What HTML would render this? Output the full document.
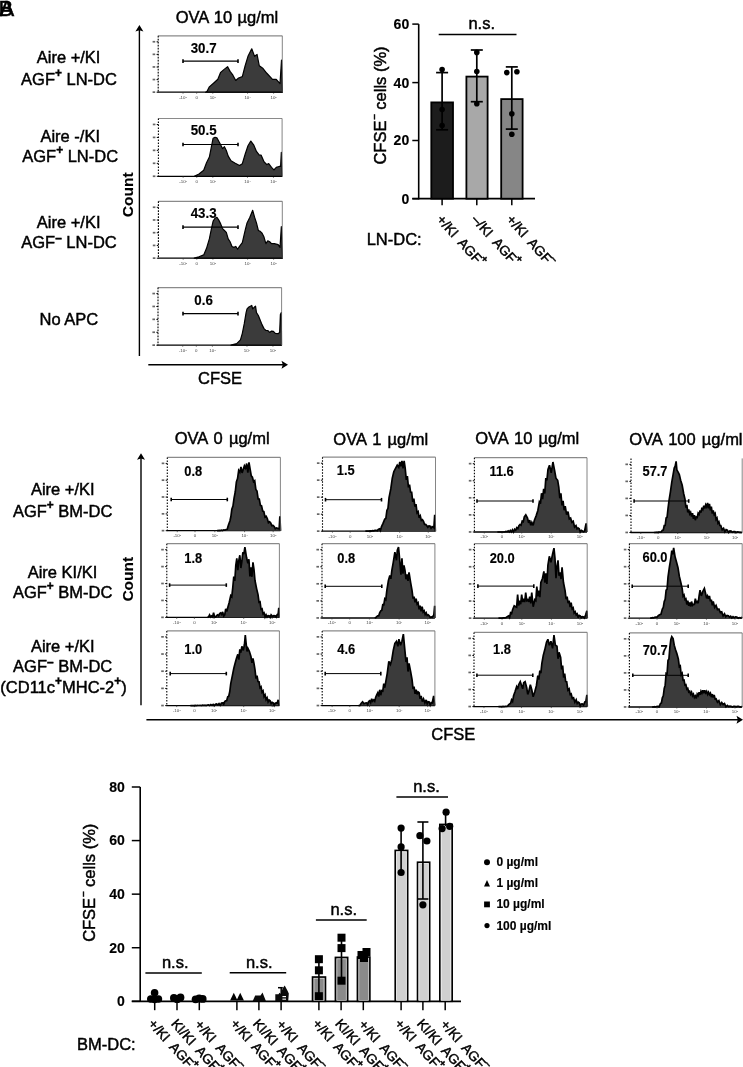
<!DOCTYPE html>
<html><head><meta charset="utf-8"><style>
html,body{margin:0;padding:0;background:#fff;}
body{width:743px;height:1067px;overflow:hidden;}
svg{display:block;font-family:"Liberation Sans", sans-serif;will-change:transform;}
</style></head><body>
<svg width="743" height="1067" viewBox="0 0 743 1067">
<rect width="743" height="1067" fill="#fff"/>
<text x="-1.5" y="15.6" font-size="22" stroke="#000" stroke-width="0.5">B</text>
<text x="-0.5" y="15.6" font-size="22" stroke="#000" stroke-width="0.5">A</text>
<text x="227.00" y="23.00" font-size="16.5" font-weight="normal" text-anchor="middle" fill="#000" stroke="#000" stroke-width="0.45" word-spacing="0.8">OVA 10 µg/ml</text>
<line x1="139.40" y1="29.10" x2="139.40" y2="356.00" stroke="#000" stroke-width="1.4" />
<path d="M139.40,25.10 L143.40,31.60 L139.40,30.30 L135.40,31.60 Z" fill="#000"/>
<line x1="148.30" y1="364.70" x2="284.00" y2="364.70" stroke="#000" stroke-width="1.4" />
<path d="M288.00,364.70 L281.50,360.70 L282.80,364.70 L281.50,368.70 Z" fill="#000"/>
<text x="0" y="0" font-size="15.5" font-weight="bold" text-anchor="middle" stroke="#000" stroke-width="0.15" transform="translate(133.00,194.80) rotate(-90) scale(1,1.0)">Count</text>
<text x="220.00" y="384.10" font-size="16.5" font-weight="normal" text-anchor="middle" fill="#000" stroke="#000" stroke-width="0.45" >CFSE</text>
<text x="68.60" y="62.80" font-size="16.5" font-weight="normal" text-anchor="middle" fill="#000" stroke="#000" stroke-width="0.45" >Aire +/KI</text>
<text x="69.00" y="84.60" font-size="16.5" font-weight="normal" text-anchor="middle" fill="#000" stroke="#000" stroke-width="0.45" >AGF<tspan font-size="72%" font-weight="bold" baseline-shift="8">+</tspan> LN-DC</text>
<text x="70.20" y="141.80" font-size="16.5" font-weight="normal" text-anchor="middle" fill="#000" stroke="#000" stroke-width="0.45" >Aire -/KI</text>
<text x="70.20" y="162.00" font-size="16.5" font-weight="normal" text-anchor="middle" fill="#000" stroke="#000" stroke-width="0.45" >AGF<tspan font-size="72%" font-weight="bold" baseline-shift="8">+</tspan> LN-DC</text>
<text x="68.70" y="227.60" font-size="16.5" font-weight="normal" text-anchor="middle" fill="#000" stroke="#000" stroke-width="0.45" >Aire +/KI</text>
<text x="69.00" y="248.20" font-size="16.5" font-weight="normal" text-anchor="middle" fill="#000" stroke="#000" stroke-width="0.45" >AGF<tspan font-size="72%" font-weight="bold" baseline-shift="6">–</tspan> LN-DC</text>
<text x="68.90" y="325.20" font-size="16.5" font-weight="normal" text-anchor="middle" fill="#000" stroke="#000" stroke-width="0.45" >No APC</text>
<line x1="158.20" y1="35.80" x2="282.30" y2="35.80" stroke="#8a8a8a" stroke-width="1.2" />
<line x1="158.20" y1="35.80" x2="158.20" y2="92.20" stroke="#000" stroke-width="1.1" stroke-dasharray="1.6 1.4"/>
<line x1="157.70" y1="92.20" x2="282.30" y2="92.20" stroke="#000" stroke-width="1.3" />
<line x1="156.60" y1="92.20" x2="158.20" y2="92.20" stroke="#000" stroke-width="1.0" />
<rect x="152.60" y="91.30" width="2.60" height="1.70" fill="#666" stroke="none" stroke-width="1" />
<line x1="156.60" y1="79.60" x2="158.20" y2="79.60" stroke="#000" stroke-width="1.0" />
<rect x="152.60" y="78.70" width="2.60" height="1.70" fill="#666" stroke="none" stroke-width="1" />
<line x1="156.60" y1="67.00" x2="158.20" y2="67.00" stroke="#000" stroke-width="1.0" />
<rect x="152.60" y="66.10" width="2.60" height="1.70" fill="#666" stroke="none" stroke-width="1" />
<line x1="156.60" y1="54.40" x2="158.20" y2="54.40" stroke="#000" stroke-width="1.0" />
<rect x="152.60" y="53.50" width="2.60" height="1.70" fill="#666" stroke="none" stroke-width="1" />
<line x1="156.60" y1="41.80" x2="158.20" y2="41.80" stroke="#000" stroke-width="1.0" />
<rect x="152.60" y="40.90" width="2.60" height="1.70" fill="#666" stroke="none" stroke-width="1" />
<line x1="183.02" y1="92.20" x2="183.02" y2="93.70" stroke="#333" stroke-width="0.7" />
<text x="183.02" y="98.50" font-size="4.4" fill="#444" text-anchor="middle">-10<tspan font-size="2.5" dy="-1">3</tspan></text>
<line x1="196.67" y1="92.20" x2="196.67" y2="93.70" stroke="#333" stroke-width="0.7" />
<text x="196.67" y="98.50" font-size="4.4" fill="#444" text-anchor="middle">0</text>
<line x1="212.80" y1="92.20" x2="212.80" y2="93.70" stroke="#333" stroke-width="0.7" />
<text x="212.80" y="98.50" font-size="4.4" fill="#444" text-anchor="middle">10<tspan font-size="2.5" dy="-1">3</tspan></text>
<line x1="247.55" y1="92.20" x2="247.55" y2="93.70" stroke="#333" stroke-width="0.7" />
<text x="247.55" y="98.50" font-size="4.4" fill="#444" text-anchor="middle">10<tspan font-size="2.5" dy="-1">4</tspan></text>
<line x1="273.61" y1="92.20" x2="273.61" y2="93.70" stroke="#333" stroke-width="0.7" />
<text x="273.61" y="98.50" font-size="4.4" fill="#444" text-anchor="middle">10<tspan font-size="2.5" dy="-1">5</tspan></text>
<path d="M205.59,92.20 L207.09,91.34 L209.35,86.83 L214.06,82.69 L217.83,79.30 L220.66,72.34 L224.43,69.14 L227.63,66.69 L230.08,71.40 L232.91,75.16 L235.73,80.43 L238.56,77.98 L242.33,76.67 L245.15,65.75 L247.98,56.34 L251.75,48.82 L254.58,56.34 L257.03,54.46 L259.29,65.75 L263.06,68.58 L266.82,73.28 L272.48,79.30 L276.24,79.30 L280.01,83.63 L281.52,60.11 L282.46,92.20 Z" fill="#3b3b3b" stroke="#000" stroke-width="1.2" stroke-linejoin="round"/>
<line x1="282.30" y1="35.80" x2="282.30" y2="92.20" stroke="#666" stroke-width="0.8" />
<text x="0" y="0" transform="translate(203.60,53.40) scale(0.93,1)" font-size="14.3" font-weight="bold" text-anchor="middle" fill="#000" stroke="#000" stroke-width="0.15" >30.7</text>
<line x1="183.00" y1="61.10" x2="238.00" y2="61.10" stroke="#000" stroke-width="1.05" />
<line x1="183.00" y1="59.30" x2="183.00" y2="62.90" stroke="#000" stroke-width="1.6" />
<line x1="238.00" y1="59.30" x2="238.00" y2="62.90" stroke="#000" stroke-width="1.6" />
<line x1="158.40" y1="118.50" x2="282.10" y2="118.50" stroke="#8a8a8a" stroke-width="1.2" />
<line x1="158.40" y1="118.50" x2="158.40" y2="176.30" stroke="#000" stroke-width="1.1" stroke-dasharray="1.6 1.4"/>
<line x1="157.90" y1="176.30" x2="282.10" y2="176.30" stroke="#000" stroke-width="1.3" />
<line x1="156.80" y1="176.30" x2="158.40" y2="176.30" stroke="#000" stroke-width="1.0" />
<rect x="152.80" y="175.40" width="2.60" height="1.70" fill="#666" stroke="none" stroke-width="1" />
<line x1="156.80" y1="163.35" x2="158.40" y2="163.35" stroke="#000" stroke-width="1.0" />
<rect x="152.80" y="162.45" width="2.60" height="1.70" fill="#666" stroke="none" stroke-width="1" />
<line x1="156.80" y1="150.40" x2="158.40" y2="150.40" stroke="#000" stroke-width="1.0" />
<rect x="152.80" y="149.50" width="2.60" height="1.70" fill="#666" stroke="none" stroke-width="1" />
<line x1="156.80" y1="137.45" x2="158.40" y2="137.45" stroke="#000" stroke-width="1.0" />
<rect x="152.80" y="136.55" width="2.60" height="1.70" fill="#666" stroke="none" stroke-width="1" />
<line x1="156.80" y1="124.50" x2="158.40" y2="124.50" stroke="#000" stroke-width="1.0" />
<rect x="152.80" y="123.60" width="2.60" height="1.70" fill="#666" stroke="none" stroke-width="1" />
<line x1="183.14" y1="176.30" x2="183.14" y2="177.80" stroke="#333" stroke-width="0.7" />
<text x="183.14" y="182.60" font-size="4.4" fill="#444" text-anchor="middle">-10<tspan font-size="2.5" dy="-1">3</tspan></text>
<line x1="196.75" y1="176.30" x2="196.75" y2="177.80" stroke="#333" stroke-width="0.7" />
<text x="196.75" y="182.60" font-size="4.4" fill="#444" text-anchor="middle">0</text>
<line x1="212.83" y1="176.30" x2="212.83" y2="177.80" stroke="#333" stroke-width="0.7" />
<text x="212.83" y="182.60" font-size="4.4" fill="#444" text-anchor="middle">10<tspan font-size="2.5" dy="-1">3</tspan></text>
<line x1="247.46" y1="176.30" x2="247.46" y2="177.80" stroke="#333" stroke-width="0.7" />
<text x="247.46" y="182.60" font-size="4.4" fill="#444" text-anchor="middle">10<tspan font-size="2.5" dy="-1">4</tspan></text>
<line x1="273.44" y1="176.30" x2="273.44" y2="177.80" stroke="#333" stroke-width="0.7" />
<text x="273.44" y="182.60" font-size="4.4" fill="#444" text-anchor="middle">10<tspan font-size="2.5" dy="-1">5</tspan></text>
<path d="M194.28,176.30 L198.99,173.98 L203.70,170.22 L206.53,162.69 L209.35,157.04 L211.24,147.63 L213.12,138.23 L215.01,137.28 L216.89,137.85 L219.72,142.93 L222.54,148.58 L224.43,146.69 L226.31,150.46 L228.20,156.10 L231.02,160.81 L234.79,163.06 L239.50,165.51 L242.33,163.63 L245.15,154.22 L247.98,145.75 L250.81,141.05 L253.63,144.81 L256.46,151.40 L259.29,155.16 L261.17,155.16 L264.00,161.75 L266.82,164.57 L268.71,163.63 L271.53,167.39 L273.98,169.84 L276.24,167.39 L279.07,166.45 L280.58,166.45 L281.33,152.34 L281.90,176.30 Z" fill="#3b3b3b" stroke="#000" stroke-width="1.2" stroke-linejoin="round"/>
<line x1="282.10" y1="118.50" x2="282.10" y2="176.30" stroke="#666" stroke-width="0.8" />
<text x="0" y="0" transform="translate(203.60,134.80) scale(0.93,1)" font-size="14.3" font-weight="bold" text-anchor="middle" fill="#000" stroke="#000" stroke-width="0.15" >50.5</text>
<line x1="183.00" y1="144.50" x2="238.00" y2="144.50" stroke="#000" stroke-width="1.05" />
<line x1="183.00" y1="142.70" x2="183.00" y2="146.30" stroke="#000" stroke-width="1.6" />
<line x1="238.00" y1="142.70" x2="238.00" y2="146.30" stroke="#000" stroke-width="1.6" />
<line x1="158.40" y1="201.30" x2="282.30" y2="201.30" stroke="#8a8a8a" stroke-width="1.2" />
<line x1="158.40" y1="201.30" x2="158.40" y2="258.20" stroke="#000" stroke-width="1.1" stroke-dasharray="1.6 1.4"/>
<line x1="157.90" y1="258.20" x2="282.30" y2="258.20" stroke="#000" stroke-width="1.3" />
<line x1="156.80" y1="258.20" x2="158.40" y2="258.20" stroke="#000" stroke-width="1.0" />
<rect x="152.80" y="257.30" width="2.60" height="1.70" fill="#666" stroke="none" stroke-width="1" />
<line x1="156.80" y1="245.47" x2="158.40" y2="245.47" stroke="#000" stroke-width="1.0" />
<rect x="152.80" y="244.57" width="2.60" height="1.70" fill="#666" stroke="none" stroke-width="1" />
<line x1="156.80" y1="232.75" x2="158.40" y2="232.75" stroke="#000" stroke-width="1.0" />
<rect x="152.80" y="231.85" width="2.60" height="1.70" fill="#666" stroke="none" stroke-width="1" />
<line x1="156.80" y1="220.03" x2="158.40" y2="220.03" stroke="#000" stroke-width="1.0" />
<rect x="152.80" y="219.12" width="2.60" height="1.70" fill="#666" stroke="none" stroke-width="1" />
<line x1="156.80" y1="207.30" x2="158.40" y2="207.30" stroke="#000" stroke-width="1.0" />
<rect x="152.80" y="206.40" width="2.60" height="1.70" fill="#666" stroke="none" stroke-width="1" />
<line x1="183.18" y1="258.20" x2="183.18" y2="259.70" stroke="#333" stroke-width="0.7" />
<text x="183.18" y="264.50" font-size="4.4" fill="#444" text-anchor="middle">-10<tspan font-size="2.5" dy="-1">3</tspan></text>
<line x1="196.81" y1="258.20" x2="196.81" y2="259.70" stroke="#333" stroke-width="0.7" />
<text x="196.81" y="264.50" font-size="4.4" fill="#444" text-anchor="middle">0</text>
<line x1="212.92" y1="258.20" x2="212.92" y2="259.70" stroke="#333" stroke-width="0.7" />
<text x="212.92" y="264.50" font-size="4.4" fill="#444" text-anchor="middle">10<tspan font-size="2.5" dy="-1">3</tspan></text>
<line x1="247.61" y1="258.20" x2="247.61" y2="259.70" stroke="#333" stroke-width="0.7" />
<text x="247.61" y="264.50" font-size="4.4" fill="#444" text-anchor="middle">10<tspan font-size="2.5" dy="-1">4</tspan></text>
<line x1="273.63" y1="258.20" x2="273.63" y2="259.70" stroke="#333" stroke-width="0.7" />
<text x="273.63" y="264.50" font-size="4.4" fill="#444" text-anchor="middle">10<tspan font-size="2.5" dy="-1">5</tspan></text>
<path d="M194.28,258.20 L198.99,256.80 L203.70,254.92 L206.53,248.33 L209.35,238.92 L211.24,229.52 L213.12,221.05 L215.01,218.23 L216.89,217.28 L218.78,220.11 L220.66,223.87 L222.54,228.58 L224.43,230.46 L226.31,232.34 L228.20,238.92 L230.08,241.75 L231.97,246.45 L233.85,247.39 L235.73,246.45 L237.62,249.27 L239.50,246.45 L242.33,242.69 L245.15,230.46 L247.04,222.93 L249.87,217.28 L252.69,210.32 L254.58,217.28 L256.46,222.93 L258.34,230.46 L260.23,231.40 L262.11,233.28 L264.00,237.04 L265.88,243.63 L267.77,240.81 L269.65,241.75 L271.53,243.63 L274.36,243.63 L278.13,244.57 L280.01,247.39 L281.33,226.69 L282.46,258.20 Z" fill="#3b3b3b" stroke="#000" stroke-width="1.2" stroke-linejoin="round"/>
<line x1="282.30" y1="201.30" x2="282.30" y2="258.20" stroke="#666" stroke-width="0.8" />
<text x="0" y="0" transform="translate(203.60,217.80) scale(0.93,1)" font-size="14.3" font-weight="bold" text-anchor="middle" fill="#000" stroke="#000" stroke-width="0.15" >43.3</text>
<line x1="183.00" y1="227.10" x2="238.00" y2="227.10" stroke="#000" stroke-width="1.05" />
<line x1="183.00" y1="225.30" x2="183.00" y2="228.90" stroke="#000" stroke-width="1.6" />
<line x1="238.00" y1="225.30" x2="238.00" y2="228.90" stroke="#000" stroke-width="1.6" />
<line x1="158.00" y1="287.60" x2="281.60" y2="287.60" stroke="#8a8a8a" stroke-width="1.2" />
<line x1="158.00" y1="287.60" x2="158.00" y2="345.20" stroke="#000" stroke-width="1.1" stroke-dasharray="1.6 1.4"/>
<line x1="157.50" y1="345.20" x2="281.60" y2="345.20" stroke="#000" stroke-width="1.3" />
<line x1="156.40" y1="345.20" x2="158.00" y2="345.20" stroke="#000" stroke-width="1.0" />
<rect x="152.40" y="344.30" width="2.60" height="1.70" fill="#666" stroke="none" stroke-width="1" />
<line x1="156.40" y1="332.30" x2="158.00" y2="332.30" stroke="#000" stroke-width="1.0" />
<rect x="152.40" y="331.40" width="2.60" height="1.70" fill="#666" stroke="none" stroke-width="1" />
<line x1="156.40" y1="319.40" x2="158.00" y2="319.40" stroke="#000" stroke-width="1.0" />
<rect x="152.40" y="318.50" width="2.60" height="1.70" fill="#666" stroke="none" stroke-width="1" />
<line x1="156.40" y1="306.50" x2="158.00" y2="306.50" stroke="#000" stroke-width="1.0" />
<rect x="152.40" y="305.60" width="2.60" height="1.70" fill="#666" stroke="none" stroke-width="1" />
<line x1="156.40" y1="293.60" x2="158.00" y2="293.60" stroke="#000" stroke-width="1.0" />
<rect x="152.40" y="292.70" width="2.60" height="1.70" fill="#666" stroke="none" stroke-width="1" />
<line x1="182.72" y1="345.20" x2="182.72" y2="346.70" stroke="#333" stroke-width="0.7" />
<text x="182.72" y="351.50" font-size="4.4" fill="#444" text-anchor="middle">-10<tspan font-size="2.5" dy="-1">3</tspan></text>
<line x1="196.32" y1="345.20" x2="196.32" y2="346.70" stroke="#333" stroke-width="0.7" />
<text x="196.32" y="351.50" font-size="4.4" fill="#444" text-anchor="middle">0</text>
<line x1="212.38" y1="345.20" x2="212.38" y2="346.70" stroke="#333" stroke-width="0.7" />
<text x="212.38" y="351.50" font-size="4.4" fill="#444" text-anchor="middle">10<tspan font-size="2.5" dy="-1">3</tspan></text>
<line x1="246.99" y1="345.20" x2="246.99" y2="346.70" stroke="#333" stroke-width="0.7" />
<text x="246.99" y="351.50" font-size="4.4" fill="#444" text-anchor="middle">10<tspan font-size="2.5" dy="-1">4</tspan></text>
<line x1="272.95" y1="345.20" x2="272.95" y2="346.70" stroke="#333" stroke-width="0.7" />
<text x="272.95" y="351.50" font-size="4.4" fill="#444" text-anchor="middle">10<tspan font-size="2.5" dy="-1">5</tspan></text>
<path d="M231.02,345.20 L236.68,343.68 L240.44,339.92 L242.33,333.33 L244.21,323.92 L246.10,312.63 L247.04,308.87 L248.92,306.99 L251.75,305.48 L252.69,308.87 L254.58,306.99 L255.52,306.05 L256.46,312.63 L258.34,315.46 L260.23,320.16 L262.11,324.87 L264.00,328.63 L265.88,330.51 L267.77,330.51 L269.65,332.39 L271.53,331.08 L273.42,331.45 L275.30,333.33 L278.13,333.71 L279.64,332.39 L280.39,314.52 L281.33,312.63 L281.52,345.20 Z" fill="#3b3b3b" stroke="#000" stroke-width="1.2" stroke-linejoin="round"/>
<line x1="281.60" y1="287.60" x2="281.60" y2="345.20" stroke="#666" stroke-width="0.8" />
<text x="0" y="0" transform="translate(203.60,305.00) scale(0.93,1)" font-size="14.3" font-weight="bold" text-anchor="middle" fill="#000" stroke="#000" stroke-width="0.15" >0.6</text>
<line x1="183.00" y1="313.60" x2="238.00" y2="313.60" stroke="#000" stroke-width="1.05" />
<line x1="183.00" y1="311.80" x2="183.00" y2="315.40" stroke="#000" stroke-width="1.6" />
<line x1="238.00" y1="311.80" x2="238.00" y2="315.40" stroke="#000" stroke-width="1.6" />
<line x1="418.70" y1="24.10" x2="418.70" y2="199.40" stroke="#000" stroke-width="1.6" />
<line x1="412.30" y1="24.10" x2="418.70" y2="24.10" stroke="#000" stroke-width="1.5" />
<text x="409.20" y="29.00" font-size="14" font-weight="bold" text-anchor="end" fill="#000" stroke="#000" stroke-width="0.15" >60</text>
<line x1="412.30" y1="82.60" x2="418.70" y2="82.60" stroke="#000" stroke-width="1.5" />
<text x="409.20" y="87.50" font-size="14" font-weight="bold" text-anchor="end" fill="#000" stroke="#000" stroke-width="0.15" >40</text>
<line x1="412.30" y1="140.50" x2="418.70" y2="140.50" stroke="#000" stroke-width="1.5" />
<text x="409.20" y="145.40" font-size="14" font-weight="bold" text-anchor="end" fill="#000" stroke="#000" stroke-width="0.15" >20</text>
<line x1="412.30" y1="198.70" x2="418.70" y2="198.70" stroke="#000" stroke-width="1.5" />
<text x="409.20" y="203.60" font-size="14" font-weight="bold" text-anchor="end" fill="#000" stroke="#000" stroke-width="0.15" >0</text>
<line x1="412.30" y1="198.70" x2="535.00" y2="198.70" stroke="#000" stroke-width="1.8" />
<rect x="431.30" y="102.40" width="21.70" height="96.30" fill="#1c1c1c" stroke="#000" stroke-width="1.8" />
<line x1="442.10" y1="198.70" x2="442.10" y2="205.20" stroke="#000" stroke-width="1.5" />
<rect x="466.40" y="76.60" width="21.20" height="122.10" fill="#a8a8a8" stroke="#000" stroke-width="1.8" />
<line x1="476.80" y1="198.70" x2="476.80" y2="205.20" stroke="#000" stroke-width="1.5" />
<rect x="501.20" y="99.10" width="21.40" height="99.60" fill="#868686" stroke="#000" stroke-width="1.8" />
<line x1="511.80" y1="198.70" x2="511.80" y2="205.20" stroke="#000" stroke-width="1.5" />
<line x1="442.10" y1="72.60" x2="442.10" y2="129.80" stroke="#000" stroke-width="1.7" />
<line x1="436.10" y1="72.60" x2="448.10" y2="72.60" stroke="#000" stroke-width="1.7" />
<line x1="436.10" y1="129.80" x2="448.10" y2="129.80" stroke="#000" stroke-width="1.7" />
<circle cx="442.10" cy="69.60" r="2.8" fill="#000"/>
<circle cx="442.10" cy="109.50" r="2.8" fill="#000"/>
<circle cx="442.10" cy="125.50" r="2.8" fill="#000"/>
<line x1="476.80" y1="50.00" x2="476.80" y2="101.70" stroke="#000" stroke-width="1.7" />
<line x1="470.80" y1="50.00" x2="482.80" y2="50.00" stroke="#000" stroke-width="1.7" />
<line x1="470.80" y1="101.70" x2="482.80" y2="101.70" stroke="#000" stroke-width="1.7" />
<circle cx="476.80" cy="52.40" r="2.8" fill="#000"/>
<circle cx="476.80" cy="71.50" r="2.8" fill="#000"/>
<circle cx="476.80" cy="103.80" r="2.8" fill="#000"/>
<line x1="511.80" y1="66.90" x2="511.80" y2="129.10" stroke="#000" stroke-width="1.7" />
<line x1="505.80" y1="66.90" x2="517.80" y2="66.90" stroke="#000" stroke-width="1.7" />
<line x1="505.80" y1="129.10" x2="517.80" y2="129.10" stroke="#000" stroke-width="1.7" />
<circle cx="511.80" cy="113.80" r="2.8" fill="#000"/>
<circle cx="511.80" cy="134.30" r="2.8" fill="#000"/>
<circle cx="506.80" cy="72.60" r="2.8" fill="#000"/>
<circle cx="516.90" cy="71.80" r="2.8" fill="#000"/>
<text x="481.70" y="28.80" font-size="16.5" font-weight="normal" text-anchor="middle" fill="#000" stroke="#000" stroke-width="0.45" >n.s.</text>
<line x1="438.70" y1="34.50" x2="516.50" y2="34.50" stroke="#000" stroke-width="1.6" />
<text x="0" y="0" font-size="16.5" font-weight="normal" text-anchor="middle" stroke="#000" stroke-width="0.45" transform="translate(385.80,105.50) rotate(-90) scale(1,1.04)">CFSE<tspan font-size="58%" font-weight="bold" baseline-shift="9" dx="1">–</tspan> cells (%)</text>
<text x="366.70" y="245.40" font-size="16.5" font-weight="normal" text-anchor="start" fill="#000" stroke="#000" stroke-width="0.45" >LN-DC:</text>
<text x="0" y="0" font-size="13.6" xml:space="preserve" stroke="#000" stroke-width="0.45" transform="translate(436.00,220.00) rotate(48)">+/KI  AGF<tspan font-size="70%" font-weight="bold" baseline-shift="7" dx="-0.5">+</tspan></text>
<text x="0" y="0" font-size="13.6" xml:space="preserve" stroke="#000" stroke-width="0.45" transform="translate(470.90,220.00) rotate(48)">–/KI  AGF<tspan font-size="70%" font-weight="bold" baseline-shift="7" dx="-0.5">+</tspan></text>
<text x="0" y="0" font-size="13.6" xml:space="preserve" stroke="#000" stroke-width="0.45" transform="translate(505.80,220.00) rotate(48)">+/KI  AGF<tspan font-size="70%" font-weight="bold" baseline-shift="7" dx="-0.5">–</tspan></text>
<text x="222.10" y="444.00" font-size="16.5" font-weight="normal" text-anchor="middle" fill="#000" stroke="#000" stroke-width="0.45" word-spacing="1.6">OVA 0 µg/ml</text>
<text x="380.80" y="444.50" font-size="16.5" font-weight="normal" text-anchor="middle" fill="#000" stroke="#000" stroke-width="0.45" word-spacing="1.6">OVA 1 µg/ml</text>
<text x="527.20" y="444.10" font-size="16.5" font-weight="normal" text-anchor="middle" fill="#000" stroke="#000" stroke-width="0.45" word-spacing="1.6">OVA 10 µg/ml</text>
<text x="685.90" y="444.50" font-size="16.5" font-weight="normal" text-anchor="middle" fill="#000" stroke="#000" stroke-width="0.45" word-spacing="1.6">OVA 100 µg/ml</text>
<line x1="141.00" y1="457.20" x2="141.00" y2="705.20" stroke="#000" stroke-width="1.4" />
<path d="M141.00,453.20 L145.00,459.70 L141.00,458.40 L137.00,459.70 Z" fill="#000"/>
<line x1="146.40" y1="719.80" x2="739.00" y2="719.80" stroke="#000" stroke-width="1.4" />
<path d="M743.00,719.80 L736.50,715.80 L737.80,719.80 L736.50,723.80 Z" fill="#000"/>
<text x="0" y="0" font-size="15.5" font-weight="bold" text-anchor="middle" stroke="#000" stroke-width="0.15" transform="translate(132.60,579.20) rotate(-90) scale(1,1.0)">Count</text>
<text x="453.30" y="739.60" font-size="16.5" font-weight="normal" text-anchor="middle" fill="#000" stroke="#000" stroke-width="0.45" >CFSE</text>
<text x="62.80" y="494.80" font-size="16.5" font-weight="normal" text-anchor="middle" fill="#000" stroke="#000" stroke-width="0.45" >Aire +/KI</text>
<text x="62.70" y="516.90" font-size="16.5" font-weight="normal" text-anchor="middle" fill="#000" stroke="#000" stroke-width="0.45" >AGF<tspan font-size="72%" font-weight="bold" baseline-shift="8">+</tspan> BM-DC</text>
<text x="62.50" y="577.70" font-size="16.5" font-weight="normal" text-anchor="middle" fill="#000" stroke="#000" stroke-width="0.45" >Aire KI/KI</text>
<text x="62.70" y="598.10" font-size="16.5" font-weight="normal" text-anchor="middle" fill="#000" stroke="#000" stroke-width="0.45" >AGF<tspan font-size="72%" font-weight="bold" baseline-shift="8">+</tspan> BM-DC</text>
<text x="62.80" y="652.40" font-size="16.5" font-weight="normal" text-anchor="middle" fill="#000" stroke="#000" stroke-width="0.45" >Aire +/KI</text>
<text x="62.70" y="671.80" font-size="16.5" font-weight="normal" text-anchor="middle" fill="#000" stroke="#000" stroke-width="0.45" >AGF<tspan font-size="72%" font-weight="bold" baseline-shift="6">–</tspan> BM-DC</text>
<text x="63.50" y="693.00" font-size="16.5" font-weight="normal" text-anchor="middle" fill="#000" stroke="#000" stroke-width="0.45" >(CD11c<tspan font-size="72%" font-weight="bold" baseline-shift="8">+</tspan>MHC-2<tspan font-size="72%" font-weight="bold" baseline-shift="8">+</tspan>)</text>
<line x1="167.30" y1="457.40" x2="280.40" y2="457.40" stroke="#8a8a8a" stroke-width="1.2" />
<line x1="167.30" y1="457.40" x2="167.30" y2="530.70" stroke="#000" stroke-width="1.1" stroke-dasharray="1.6 1.4"/>
<line x1="166.80" y1="530.70" x2="280.40" y2="530.70" stroke="#000" stroke-width="1.3" />
<line x1="165.70" y1="530.70" x2="167.30" y2="530.70" stroke="#000" stroke-width="1.0" />
<rect x="161.70" y="529.80" width="2.60" height="1.70" fill="#666" stroke="none" stroke-width="1" />
<line x1="165.70" y1="513.88" x2="167.30" y2="513.88" stroke="#000" stroke-width="1.0" />
<rect x="161.70" y="512.98" width="2.60" height="1.70" fill="#666" stroke="none" stroke-width="1" />
<line x1="165.70" y1="497.05" x2="167.30" y2="497.05" stroke="#000" stroke-width="1.0" />
<rect x="161.70" y="496.15" width="2.60" height="1.70" fill="#666" stroke="none" stroke-width="1" />
<line x1="165.70" y1="480.23" x2="167.30" y2="480.23" stroke="#000" stroke-width="1.0" />
<rect x="161.70" y="479.33" width="2.60" height="1.70" fill="#666" stroke="none" stroke-width="1" />
<line x1="165.70" y1="463.40" x2="167.30" y2="463.40" stroke="#000" stroke-width="1.0" />
<rect x="161.70" y="462.50" width="2.60" height="1.70" fill="#666" stroke="none" stroke-width="1" />
<line x1="177.25" y1="530.70" x2="177.25" y2="532.20" stroke="#333" stroke-width="0.7" />
<text x="177.25" y="537.00" font-size="4.4" fill="#444" text-anchor="middle">-10<tspan font-size="2.5" dy="-1">3</tspan></text>
<line x1="195.01" y1="530.70" x2="195.01" y2="532.20" stroke="#333" stroke-width="0.7" />
<text x="195.01" y="537.00" font-size="4.4" fill="#444" text-anchor="middle">0</text>
<line x1="214.80" y1="530.70" x2="214.80" y2="532.20" stroke="#333" stroke-width="0.7" />
<text x="214.80" y="537.00" font-size="4.4" fill="#444" text-anchor="middle">10<tspan font-size="2.5" dy="-1">3</tspan></text>
<line x1="244.55" y1="530.70" x2="244.55" y2="532.20" stroke="#333" stroke-width="0.7" />
<text x="244.55" y="537.00" font-size="4.4" fill="#444" text-anchor="middle">10<tspan font-size="2.5" dy="-1">4</tspan></text>
<line x1="273.16" y1="530.70" x2="273.16" y2="532.20" stroke="#333" stroke-width="0.7" />
<text x="273.16" y="537.00" font-size="4.4" fill="#444" text-anchor="middle">10<tspan font-size="2.5" dy="-1">5</tspan></text>
<path d="M216.94,530.70 L218.09,530.64 L219.23,530.40 L220.38,530.61 L221.52,530.09 L222.66,530.50 L223.81,529.83 L224.95,530.14 L226.10,529.47 L227.24,529.34 L228.38,525.34 L229.99,520.76 L230.90,516.55 L231.82,509.31 L232.96,506.15 L234.10,497.86 L235.25,491.97 L236.39,481.83 L237.54,478.58 L238.68,470.38 L239.83,472.28 L240.97,466.95 L242.11,472.90 L243.26,469.24 L244.40,465.80 L245.55,468.09 L246.69,463.51 L247.83,472.67 L248.98,462.37 L250.12,469.24 L251.27,475.88 L252.41,477.25 L253.55,481.73 L254.70,480.69 L255.84,489.43 L256.99,490.99 L258.13,498.99 L259.27,499.01 L260.42,505.34 L261.56,505.88 L262.71,511.07 L263.85,511.60 L264.99,517.11 L266.14,516.21 L267.28,518.47 L268.43,522.75 L269.57,521.65 L270.71,523.05 L271.86,525.68 L273.00,525.39 L274.15,526.49 L275.29,528.75 L276.43,528.03 L277.58,528.32 L279.18,528.78 L279.87,516.18 L280.55,530.70 Z" fill="#3b3b3b" stroke="none"/>
<path d="M216.94,530.70 L218.09,530.64 L219.23,530.40 L220.38,530.61 L221.52,530.09 L222.66,530.50 L223.81,529.83 L224.95,530.14 L226.10,529.47 L227.24,529.34 L228.38,525.34 L229.99,520.76 L230.90,516.55 L231.82,509.31 L232.96,506.15 L234.10,497.86 L235.25,491.97 L236.39,481.83 L237.54,478.58 L238.68,470.38 L239.83,472.28 L240.97,466.95 L242.11,472.90 L243.26,469.24 L244.40,465.80 L245.55,468.09 L246.69,463.51 L247.83,472.67 L248.98,462.37 L250.12,469.24 L251.27,475.88 L252.41,477.25 L253.55,481.73 L254.70,480.69 L255.84,489.43 L256.99,490.99 L258.13,498.99 L259.27,499.01 L260.42,505.34 L261.56,505.88 L262.71,511.07 L263.85,511.60 L264.99,517.11 L266.14,516.21 L267.28,518.47 L268.43,522.75 L269.57,521.65 L270.71,523.05 L271.86,525.68 L273.00,525.39 L274.15,526.49 L275.29,528.75 L276.43,528.03 L277.58,528.32 L279.18,528.78 L279.87,516.18 L280.55,530.70" fill="none" stroke="#000" stroke-width="1.7" stroke-linejoin="miter" stroke-miterlimit="3"/>
<line x1="280.40" y1="457.40" x2="280.40" y2="530.70" stroke="#666" stroke-width="0.8" />
<text x="0" y="0" transform="translate(193.20,476.00) scale(0.9,1)" font-size="14.3" font-weight="bold" text-anchor="middle" fill="#000" stroke="#000" stroke-width="0.15" >0.8</text>
<line x1="171.20" y1="499.50" x2="227.30" y2="499.50" stroke="#000" stroke-width="1.0" />
<line x1="171.20" y1="497.70" x2="171.20" y2="501.30" stroke="#000" stroke-width="1.6" />
<line x1="227.30" y1="497.70" x2="227.30" y2="501.30" stroke="#000" stroke-width="1.6" />
<line x1="166.80" y1="543.70" x2="279.40" y2="543.70" stroke="#8a8a8a" stroke-width="1.2" />
<line x1="166.80" y1="543.70" x2="166.80" y2="617.40" stroke="#000" stroke-width="1.1" stroke-dasharray="1.6 1.4"/>
<line x1="166.30" y1="617.40" x2="279.40" y2="617.40" stroke="#000" stroke-width="1.3" />
<line x1="165.20" y1="617.40" x2="166.80" y2="617.40" stroke="#000" stroke-width="1.0" />
<rect x="161.20" y="616.50" width="2.60" height="1.70" fill="#666" stroke="none" stroke-width="1" />
<line x1="165.20" y1="600.48" x2="166.80" y2="600.48" stroke="#000" stroke-width="1.0" />
<rect x="161.20" y="599.58" width="2.60" height="1.70" fill="#666" stroke="none" stroke-width="1" />
<line x1="165.20" y1="583.55" x2="166.80" y2="583.55" stroke="#000" stroke-width="1.0" />
<rect x="161.20" y="582.65" width="2.60" height="1.70" fill="#666" stroke="none" stroke-width="1" />
<line x1="165.20" y1="566.62" x2="166.80" y2="566.62" stroke="#000" stroke-width="1.0" />
<rect x="161.20" y="565.73" width="2.60" height="1.70" fill="#666" stroke="none" stroke-width="1" />
<line x1="165.20" y1="549.70" x2="166.80" y2="549.70" stroke="#000" stroke-width="1.0" />
<rect x="161.20" y="548.80" width="2.60" height="1.70" fill="#666" stroke="none" stroke-width="1" />
<line x1="176.71" y1="617.40" x2="176.71" y2="618.90" stroke="#333" stroke-width="0.7" />
<text x="176.71" y="623.70" font-size="4.4" fill="#444" text-anchor="middle">-10<tspan font-size="2.5" dy="-1">3</tspan></text>
<line x1="194.39" y1="617.40" x2="194.39" y2="618.90" stroke="#333" stroke-width="0.7" />
<text x="194.39" y="623.70" font-size="4.4" fill="#444" text-anchor="middle">0</text>
<line x1="214.09" y1="617.40" x2="214.09" y2="618.90" stroke="#333" stroke-width="0.7" />
<text x="214.09" y="623.70" font-size="4.4" fill="#444" text-anchor="middle">10<tspan font-size="2.5" dy="-1">3</tspan></text>
<line x1="243.71" y1="617.40" x2="243.71" y2="618.90" stroke="#333" stroke-width="0.7" />
<text x="243.71" y="623.70" font-size="4.4" fill="#444" text-anchor="middle">10<tspan font-size="2.5" dy="-1">4</tspan></text>
<line x1="272.19" y1="617.40" x2="272.19" y2="618.90" stroke="#333" stroke-width="0.7" />
<text x="272.19" y="623.70" font-size="4.4" fill="#444" text-anchor="middle">10<tspan font-size="2.5" dy="-1">5</tspan></text>
<path d="M207.54,617.40 L208.55,616.83 L209.56,614.85 L210.57,616.93 L211.57,615.86 L212.58,616.79 L213.59,612.83 L214.60,616.87 L215.61,616.98 L216.62,615.68 L217.63,614.85 L218.64,615.74 L219.65,613.53 L220.66,612.83 L221.67,614.37 L222.68,611.82 L223.69,616.15 L224.70,614.85 L225.71,608.79 L226.72,611.40 L227.73,607.78 L229.14,602.73 L230.75,595.66 L231.76,596.79 L232.77,587.58 L233.78,576.46 L234.79,580.92 L235.80,565.35 L236.81,558.28 L237.82,570.18 L238.83,560.30 L239.84,555.25 L240.85,568.00 L241.86,561.31 L242.87,552.22 L243.88,554.24 L244.89,547.17 L246.50,557.27 L247.91,563.33 L248.92,559.29 L249.93,576.34 L250.94,567.37 L251.95,576.80 L252.96,562.32 L253.97,569.39 L254.98,580.51 L256.59,588.59 L258.01,594.65 L259.02,602.17 L260.03,601.72 L261.04,609.26 L262.05,608.79 L263.06,613.75 L264.06,612.83 L265.07,616.91 L266.08,614.85 L267.09,617.07 L268.10,615.60 L269.11,615.86 L270.12,617.38 L271.13,614.85 L272.48,616.33 L273.82,615.64 L275.17,615.86 L276.18,617.10 L277.19,614.58 L278.20,613.84 L278.80,607.78 L279.21,617.40 Z" fill="#3b3b3b" stroke="none"/>
<path d="M207.54,617.40 L208.55,616.83 L209.56,614.85 L210.57,616.93 L211.57,615.86 L212.58,616.79 L213.59,612.83 L214.60,616.87 L215.61,616.98 L216.62,615.68 L217.63,614.85 L218.64,615.74 L219.65,613.53 L220.66,612.83 L221.67,614.37 L222.68,611.82 L223.69,616.15 L224.70,614.85 L225.71,608.79 L226.72,611.40 L227.73,607.78 L229.14,602.73 L230.75,595.66 L231.76,596.79 L232.77,587.58 L233.78,576.46 L234.79,580.92 L235.80,565.35 L236.81,558.28 L237.82,570.18 L238.83,560.30 L239.84,555.25 L240.85,568.00 L241.86,561.31 L242.87,552.22 L243.88,554.24 L244.89,547.17 L246.50,557.27 L247.91,563.33 L248.92,559.29 L249.93,576.34 L250.94,567.37 L251.95,576.80 L252.96,562.32 L253.97,569.39 L254.98,580.51 L256.59,588.59 L258.01,594.65 L259.02,602.17 L260.03,601.72 L261.04,609.26 L262.05,608.79 L263.06,613.75 L264.06,612.83 L265.07,616.91 L266.08,614.85 L267.09,617.07 L268.10,615.60 L269.11,615.86 L270.12,617.38 L271.13,614.85 L272.48,616.33 L273.82,615.64 L275.17,615.86 L276.18,617.10 L277.19,614.58 L278.20,613.84 L278.80,607.78 L279.21,617.40" fill="none" stroke="#000" stroke-width="1.7" stroke-linejoin="miter" stroke-miterlimit="3"/>
<line x1="279.40" y1="543.70" x2="279.40" y2="617.40" stroke="#666" stroke-width="0.8" />
<text x="0" y="0" transform="translate(193.20,563.20) scale(0.9,1)" font-size="14.3" font-weight="bold" text-anchor="middle" fill="#000" stroke="#000" stroke-width="0.15" >1.8</text>
<line x1="169.60" y1="585.10" x2="226.30" y2="585.10" stroke="#000" stroke-width="1.0" />
<line x1="169.60" y1="583.30" x2="169.60" y2="586.90" stroke="#000" stroke-width="1.6" />
<line x1="226.30" y1="583.30" x2="226.30" y2="586.90" stroke="#000" stroke-width="1.6" />
<line x1="166.80" y1="630.90" x2="279.40" y2="630.90" stroke="#8a8a8a" stroke-width="1.2" />
<line x1="166.80" y1="630.90" x2="166.80" y2="705.60" stroke="#000" stroke-width="1.1" stroke-dasharray="1.6 1.4"/>
<line x1="166.30" y1="705.60" x2="279.40" y2="705.60" stroke="#000" stroke-width="1.3" />
<line x1="165.20" y1="705.60" x2="166.80" y2="705.60" stroke="#000" stroke-width="1.0" />
<rect x="161.20" y="704.70" width="2.60" height="1.70" fill="#666" stroke="none" stroke-width="1" />
<line x1="165.20" y1="688.42" x2="166.80" y2="688.42" stroke="#000" stroke-width="1.0" />
<rect x="161.20" y="687.52" width="2.60" height="1.70" fill="#666" stroke="none" stroke-width="1" />
<line x1="165.20" y1="671.25" x2="166.80" y2="671.25" stroke="#000" stroke-width="1.0" />
<rect x="161.20" y="670.35" width="2.60" height="1.70" fill="#666" stroke="none" stroke-width="1" />
<line x1="165.20" y1="654.08" x2="166.80" y2="654.08" stroke="#000" stroke-width="1.0" />
<rect x="161.20" y="653.18" width="2.60" height="1.70" fill="#666" stroke="none" stroke-width="1" />
<line x1="165.20" y1="636.90" x2="166.80" y2="636.90" stroke="#000" stroke-width="1.0" />
<rect x="161.20" y="636.00" width="2.60" height="1.70" fill="#666" stroke="none" stroke-width="1" />
<line x1="176.71" y1="705.60" x2="176.71" y2="707.10" stroke="#333" stroke-width="0.7" />
<text x="176.71" y="711.90" font-size="4.4" fill="#444" text-anchor="middle">-10<tspan font-size="2.5" dy="-1">3</tspan></text>
<line x1="194.39" y1="705.60" x2="194.39" y2="707.10" stroke="#333" stroke-width="0.7" />
<text x="194.39" y="711.90" font-size="4.4" fill="#444" text-anchor="middle">0</text>
<line x1="214.09" y1="705.60" x2="214.09" y2="707.10" stroke="#333" stroke-width="0.7" />
<text x="214.09" y="711.90" font-size="4.4" fill="#444" text-anchor="middle">10<tspan font-size="2.5" dy="-1">3</tspan></text>
<line x1="243.71" y1="705.60" x2="243.71" y2="707.10" stroke="#333" stroke-width="0.7" />
<text x="243.71" y="711.90" font-size="4.4" fill="#444" text-anchor="middle">10<tspan font-size="2.5" dy="-1">4</tspan></text>
<line x1="272.19" y1="705.60" x2="272.19" y2="707.10" stroke="#333" stroke-width="0.7" />
<text x="272.19" y="711.90" font-size="4.4" fill="#444" text-anchor="middle">10<tspan font-size="2.5" dy="-1">5</tspan></text>
<path d="M190.38,705.60 L191.59,705.59 L192.80,705.51 L194.01,705.57 L195.22,705.43 L196.43,705.55 L197.64,705.36 L198.86,705.48 L200.07,705.27 L201.28,705.51 L202.49,705.17 L203.70,705.45 L204.91,705.11 L206.12,705.58 L207.34,704.99 L208.55,704.90 L209.70,705.44 L210.85,704.62 L212.01,705.41 L213.16,704.45 L214.31,705.59 L215.47,704.23 L216.62,703.89 L217.83,704.85 L219.04,703.61 L220.26,705.18 L221.47,703.09 L222.68,702.88 L223.69,704.25 L224.70,701.61 L225.71,700.86 L226.72,700.54 L227.73,696.82 L228.73,696.15 L229.74,691.77 L230.75,683.69 L232.37,675.61 L233.78,668.54 L234.79,664.49 L236.41,658.43 L237.82,654.39 L238.83,659.68 L239.84,649.34 L240.85,652.74 L241.86,646.31 L243.27,650.35 L244.48,644.29 L245.29,635.20 L246.10,643.28 L247.01,651.48 L247.91,648.33 L249.33,651.36 L250.94,656.41 L251.95,662.93 L252.96,658.43 L253.97,663.48 L254.98,669.55 L255.99,678.58 L257.00,675.61 L258.01,681.47 L259.02,681.67 L260.03,687.73 L261.04,686.72 L262.05,692.14 L263.06,690.76 L264.06,696.56 L265.07,694.80 L266.08,699.57 L267.09,697.83 L268.10,701.90 L269.11,699.98 L270.12,700.86 L271.13,703.56 L272.14,702.36 L273.15,702.88 L274.16,705.43 L275.17,703.27 L276.18,702.88 L277.19,702.97 L278.20,699.85 L279.21,705.60 Z" fill="#3b3b3b" stroke="none"/>
<path d="M190.38,705.60 L191.59,705.59 L192.80,705.51 L194.01,705.57 L195.22,705.43 L196.43,705.55 L197.64,705.36 L198.86,705.48 L200.07,705.27 L201.28,705.51 L202.49,705.17 L203.70,705.45 L204.91,705.11 L206.12,705.58 L207.34,704.99 L208.55,704.90 L209.70,705.44 L210.85,704.62 L212.01,705.41 L213.16,704.45 L214.31,705.59 L215.47,704.23 L216.62,703.89 L217.83,704.85 L219.04,703.61 L220.26,705.18 L221.47,703.09 L222.68,702.88 L223.69,704.25 L224.70,701.61 L225.71,700.86 L226.72,700.54 L227.73,696.82 L228.73,696.15 L229.74,691.77 L230.75,683.69 L232.37,675.61 L233.78,668.54 L234.79,664.49 L236.41,658.43 L237.82,654.39 L238.83,659.68 L239.84,649.34 L240.85,652.74 L241.86,646.31 L243.27,650.35 L244.48,644.29 L245.29,635.20 L246.10,643.28 L247.01,651.48 L247.91,648.33 L249.33,651.36 L250.94,656.41 L251.95,662.93 L252.96,658.43 L253.97,663.48 L254.98,669.55 L255.99,678.58 L257.00,675.61 L258.01,681.47 L259.02,681.67 L260.03,687.73 L261.04,686.72 L262.05,692.14 L263.06,690.76 L264.06,696.56 L265.07,694.80 L266.08,699.57 L267.09,697.83 L268.10,701.90 L269.11,699.98 L270.12,700.86 L271.13,703.56 L272.14,702.36 L273.15,702.88 L274.16,705.43 L275.17,703.27 L276.18,702.88 L277.19,702.97 L278.20,699.85 L279.21,705.60" fill="none" stroke="#000" stroke-width="1.7" stroke-linejoin="miter" stroke-miterlimit="3"/>
<line x1="279.40" y1="630.90" x2="279.40" y2="705.60" stroke="#666" stroke-width="0.8" />
<text x="0" y="0" transform="translate(193.20,654.30) scale(0.9,1)" font-size="14.3" font-weight="bold" text-anchor="middle" fill="#000" stroke="#000" stroke-width="0.15" >1.0</text>
<line x1="170.20" y1="673.60" x2="226.30" y2="673.60" stroke="#000" stroke-width="1.0" />
<line x1="170.20" y1="671.80" x2="170.20" y2="675.40" stroke="#000" stroke-width="1.6" />
<line x1="226.30" y1="671.80" x2="226.30" y2="675.40" stroke="#000" stroke-width="1.6" />
<line x1="322.50" y1="457.20" x2="435.50" y2="457.20" stroke="#8a8a8a" stroke-width="1.2" />
<line x1="322.50" y1="457.20" x2="322.50" y2="531.20" stroke="#000" stroke-width="1.1" stroke-dasharray="1.6 1.4"/>
<line x1="322.00" y1="531.20" x2="435.50" y2="531.20" stroke="#000" stroke-width="1.3" />
<line x1="320.90" y1="531.20" x2="322.50" y2="531.20" stroke="#000" stroke-width="1.0" />
<rect x="316.90" y="530.30" width="2.60" height="1.70" fill="#666" stroke="none" stroke-width="1" />
<line x1="320.90" y1="514.20" x2="322.50" y2="514.20" stroke="#000" stroke-width="1.0" />
<rect x="316.90" y="513.30" width="2.60" height="1.70" fill="#666" stroke="none" stroke-width="1" />
<line x1="320.90" y1="497.20" x2="322.50" y2="497.20" stroke="#000" stroke-width="1.0" />
<rect x="316.90" y="496.30" width="2.60" height="1.70" fill="#666" stroke="none" stroke-width="1" />
<line x1="320.90" y1="480.20" x2="322.50" y2="480.20" stroke="#000" stroke-width="1.0" />
<rect x="316.90" y="479.30" width="2.60" height="1.70" fill="#666" stroke="none" stroke-width="1" />
<line x1="320.90" y1="463.20" x2="322.50" y2="463.20" stroke="#000" stroke-width="1.0" />
<rect x="316.90" y="462.30" width="2.60" height="1.70" fill="#666" stroke="none" stroke-width="1" />
<line x1="332.44" y1="531.20" x2="332.44" y2="532.70" stroke="#333" stroke-width="0.7" />
<text x="332.44" y="537.50" font-size="4.4" fill="#444" text-anchor="middle">-10<tspan font-size="2.5" dy="-1">3</tspan></text>
<line x1="350.19" y1="531.20" x2="350.19" y2="532.70" stroke="#333" stroke-width="0.7" />
<text x="350.19" y="537.50" font-size="4.4" fill="#444" text-anchor="middle">0</text>
<line x1="369.96" y1="531.20" x2="369.96" y2="532.70" stroke="#333" stroke-width="0.7" />
<text x="369.96" y="537.50" font-size="4.4" fill="#444" text-anchor="middle">10<tspan font-size="2.5" dy="-1">3</tspan></text>
<line x1="399.68" y1="531.20" x2="399.68" y2="532.70" stroke="#333" stroke-width="0.7" />
<text x="399.68" y="537.50" font-size="4.4" fill="#444" text-anchor="middle">10<tspan font-size="2.5" dy="-1">4</tspan></text>
<line x1="428.27" y1="531.20" x2="428.27" y2="532.70" stroke="#333" stroke-width="0.7" />
<text x="428.27" y="537.50" font-size="4.4" fill="#444" text-anchor="middle">10<tspan font-size="2.5" dy="-1">5</tspan></text>
<path d="M365.37,531.20 L366.57,531.15 L367.76,531.01 L368.96,531.07 L370.16,530.83 L371.35,531.09 L372.55,530.63 L373.74,530.82 L374.94,530.45 L376.14,530.31 L377.21,530.72 L378.29,529.46 L379.37,528.80 L380.44,530.56 L381.52,526.64 L383.03,523.41 L384.75,519.10 L385.83,518.50 L386.90,510.48 L387.98,508.25 L389.06,497.56 L390.78,488.94 L392.29,478.17 L393.80,471.71 L395.52,468.47 L397.24,465.24 L398.75,467.40 L399.83,462.01 L400.90,466.32 L401.98,460.93 L403.06,468.47 L404.13,460.93 L405.21,468.47 L406.29,479.81 L407.36,476.01 L408.44,487.40 L409.52,484.63 L410.59,492.06 L411.67,492.17 L412.75,501.82 L413.82,498.64 L414.90,506.68 L415.98,504.02 L417.05,512.73 L418.13,511.56 L419.21,517.80 L420.28,515.87 L421.36,520.41 L422.44,519.70 L423.51,521.26 L424.59,524.48 L425.67,524.45 L426.74,525.57 L427.82,527.24 L428.90,525.88 L429.97,526.00 L431.05,528.06 L432.13,526.64 L433.85,527.72 L434.71,514.79 L435.36,531.20 Z" fill="#3b3b3b" stroke="none"/>
<path d="M365.37,531.20 L366.57,531.15 L367.76,531.01 L368.96,531.07 L370.16,530.83 L371.35,531.09 L372.55,530.63 L373.74,530.82 L374.94,530.45 L376.14,530.31 L377.21,530.72 L378.29,529.46 L379.37,528.80 L380.44,530.56 L381.52,526.64 L383.03,523.41 L384.75,519.10 L385.83,518.50 L386.90,510.48 L387.98,508.25 L389.06,497.56 L390.78,488.94 L392.29,478.17 L393.80,471.71 L395.52,468.47 L397.24,465.24 L398.75,467.40 L399.83,462.01 L400.90,466.32 L401.98,460.93 L403.06,468.47 L404.13,460.93 L405.21,468.47 L406.29,479.81 L407.36,476.01 L408.44,487.40 L409.52,484.63 L410.59,492.06 L411.67,492.17 L412.75,501.82 L413.82,498.64 L414.90,506.68 L415.98,504.02 L417.05,512.73 L418.13,511.56 L419.21,517.80 L420.28,515.87 L421.36,520.41 L422.44,519.70 L423.51,521.26 L424.59,524.48 L425.67,524.45 L426.74,525.57 L427.82,527.24 L428.90,525.88 L429.97,526.00 L431.05,528.06 L432.13,526.64 L433.85,527.72 L434.71,514.79 L435.36,531.20" fill="none" stroke="#000" stroke-width="1.7" stroke-linejoin="miter" stroke-miterlimit="3"/>
<line x1="435.50" y1="457.20" x2="435.50" y2="531.20" stroke="#666" stroke-width="0.8" />
<text x="0" y="0" transform="translate(345.80,474.80) scale(0.9,1)" font-size="14.3" font-weight="bold" text-anchor="middle" fill="#000" stroke="#000" stroke-width="0.15" >1.5</text>
<line x1="325.50" y1="499.70" x2="381.50" y2="499.70" stroke="#000" stroke-width="1.0" />
<line x1="325.50" y1="497.90" x2="325.50" y2="501.50" stroke="#000" stroke-width="1.6" />
<line x1="381.50" y1="497.90" x2="381.50" y2="501.50" stroke="#000" stroke-width="1.6" />
<line x1="322.00" y1="543.70" x2="434.90" y2="543.70" stroke="#8a8a8a" stroke-width="1.2" />
<line x1="322.00" y1="543.70" x2="322.00" y2="618.00" stroke="#000" stroke-width="1.1" stroke-dasharray="1.6 1.4"/>
<line x1="321.50" y1="618.00" x2="434.90" y2="618.00" stroke="#000" stroke-width="1.3" />
<line x1="320.40" y1="618.00" x2="322.00" y2="618.00" stroke="#000" stroke-width="1.0" />
<rect x="316.40" y="617.10" width="2.60" height="1.70" fill="#666" stroke="none" stroke-width="1" />
<line x1="320.40" y1="600.92" x2="322.00" y2="600.92" stroke="#000" stroke-width="1.0" />
<rect x="316.40" y="600.02" width="2.60" height="1.70" fill="#666" stroke="none" stroke-width="1" />
<line x1="320.40" y1="583.85" x2="322.00" y2="583.85" stroke="#000" stroke-width="1.0" />
<rect x="316.40" y="582.95" width="2.60" height="1.70" fill="#666" stroke="none" stroke-width="1" />
<line x1="320.40" y1="566.78" x2="322.00" y2="566.78" stroke="#000" stroke-width="1.0" />
<rect x="316.40" y="565.88" width="2.60" height="1.70" fill="#666" stroke="none" stroke-width="1" />
<line x1="320.40" y1="549.70" x2="322.00" y2="549.70" stroke="#000" stroke-width="1.0" />
<rect x="316.40" y="548.80" width="2.60" height="1.70" fill="#666" stroke="none" stroke-width="1" />
<line x1="331.94" y1="618.00" x2="331.94" y2="619.50" stroke="#333" stroke-width="0.7" />
<text x="331.94" y="624.30" font-size="4.4" fill="#444" text-anchor="middle">-10<tspan font-size="2.5" dy="-1">3</tspan></text>
<line x1="349.66" y1="618.00" x2="349.66" y2="619.50" stroke="#333" stroke-width="0.7" />
<text x="349.66" y="624.30" font-size="4.4" fill="#444" text-anchor="middle">0</text>
<line x1="369.42" y1="618.00" x2="369.42" y2="619.50" stroke="#333" stroke-width="0.7" />
<text x="369.42" y="624.30" font-size="4.4" fill="#444" text-anchor="middle">10<tspan font-size="2.5" dy="-1">3</tspan></text>
<line x1="399.11" y1="618.00" x2="399.11" y2="619.50" stroke="#333" stroke-width="0.7" />
<text x="399.11" y="624.30" font-size="4.4" fill="#444" text-anchor="middle">10<tspan font-size="2.5" dy="-1">4</tspan></text>
<line x1="427.67" y1="618.00" x2="427.67" y2="619.50" stroke="#333" stroke-width="0.7" />
<text x="427.67" y="624.30" font-size="4.4" fill="#444" text-anchor="middle">10<tspan font-size="2.5" dy="-1">5</tspan></text>
<path d="M374.70,618.00 L375.71,617.67 L376.72,616.65 L377.73,615.86 L378.73,615.78 L379.74,612.49 L380.75,610.81 L381.76,610.34 L382.77,604.75 L383.78,604.83 L384.79,598.69 L385.80,599.69 L386.81,590.61 L388.43,580.51 L389.84,575.45 L390.85,578.79 L391.86,570.40 L393.27,562.32 L394.89,552.22 L396.50,560.30 L397.31,550.20 L398.52,547.17 L399.93,562.32 L400.94,574.71 L401.95,558.28 L402.96,573.75 L403.97,565.35 L404.98,570.40 L405.99,579.21 L407.00,574.44 L408.01,580.81 L409.02,572.42 L410.63,582.53 L412.05,590.61 L413.06,598.75 L414.06,596.67 L415.07,602.28 L416.08,598.69 L417.09,604.01 L418.10,602.73 L419.11,609.37 L420.12,605.76 L421.13,611.38 L422.14,606.77 L423.15,612.02 L424.16,610.81 L425.17,614.60 L426.18,612.83 L427.19,615.55 L428.20,614.90 L429.21,615.86 L430.22,617.40 L431.22,616.85 L432.23,617.27 L433.85,614.85 L434.66,605.76 L434.86,618.00 Z" fill="#3b3b3b" stroke="none"/>
<path d="M374.70,618.00 L375.71,617.67 L376.72,616.65 L377.73,615.86 L378.73,615.78 L379.74,612.49 L380.75,610.81 L381.76,610.34 L382.77,604.75 L383.78,604.83 L384.79,598.69 L385.80,599.69 L386.81,590.61 L388.43,580.51 L389.84,575.45 L390.85,578.79 L391.86,570.40 L393.27,562.32 L394.89,552.22 L396.50,560.30 L397.31,550.20 L398.52,547.17 L399.93,562.32 L400.94,574.71 L401.95,558.28 L402.96,573.75 L403.97,565.35 L404.98,570.40 L405.99,579.21 L407.00,574.44 L408.01,580.81 L409.02,572.42 L410.63,582.53 L412.05,590.61 L413.06,598.75 L414.06,596.67 L415.07,602.28 L416.08,598.69 L417.09,604.01 L418.10,602.73 L419.11,609.37 L420.12,605.76 L421.13,611.38 L422.14,606.77 L423.15,612.02 L424.16,610.81 L425.17,614.60 L426.18,612.83 L427.19,615.55 L428.20,614.90 L429.21,615.86 L430.22,617.40 L431.22,616.85 L432.23,617.27 L433.85,614.85 L434.66,605.76 L434.86,618.00" fill="none" stroke="#000" stroke-width="1.7" stroke-linejoin="miter" stroke-miterlimit="3"/>
<line x1="434.90" y1="543.70" x2="434.90" y2="618.00" stroke="#666" stroke-width="0.8" />
<text x="0" y="0" transform="translate(346.20,563.20) scale(0.9,1)" font-size="14.3" font-weight="bold" text-anchor="middle" fill="#000" stroke="#000" stroke-width="0.15" >0.8</text>
<line x1="325.20" y1="586.30" x2="381.80" y2="586.30" stroke="#000" stroke-width="1.0" />
<line x1="325.20" y1="584.50" x2="325.20" y2="588.10" stroke="#000" stroke-width="1.6" />
<line x1="381.80" y1="584.50" x2="381.80" y2="588.10" stroke="#000" stroke-width="1.6" />
<line x1="322.20" y1="630.90" x2="434.90" y2="630.90" stroke="#8a8a8a" stroke-width="1.2" />
<line x1="322.20" y1="630.90" x2="322.20" y2="705.60" stroke="#000" stroke-width="1.1" stroke-dasharray="1.6 1.4"/>
<line x1="321.70" y1="705.60" x2="434.90" y2="705.60" stroke="#000" stroke-width="1.3" />
<line x1="320.60" y1="705.60" x2="322.20" y2="705.60" stroke="#000" stroke-width="1.0" />
<rect x="316.60" y="704.70" width="2.60" height="1.70" fill="#666" stroke="none" stroke-width="1" />
<line x1="320.60" y1="688.42" x2="322.20" y2="688.42" stroke="#000" stroke-width="1.0" />
<rect x="316.60" y="687.52" width="2.60" height="1.70" fill="#666" stroke="none" stroke-width="1" />
<line x1="320.60" y1="671.25" x2="322.20" y2="671.25" stroke="#000" stroke-width="1.0" />
<rect x="316.60" y="670.35" width="2.60" height="1.70" fill="#666" stroke="none" stroke-width="1" />
<line x1="320.60" y1="654.08" x2="322.20" y2="654.08" stroke="#000" stroke-width="1.0" />
<rect x="316.60" y="653.18" width="2.60" height="1.70" fill="#666" stroke="none" stroke-width="1" />
<line x1="320.60" y1="636.90" x2="322.20" y2="636.90" stroke="#000" stroke-width="1.0" />
<rect x="316.60" y="636.00" width="2.60" height="1.70" fill="#666" stroke="none" stroke-width="1" />
<line x1="332.12" y1="705.60" x2="332.12" y2="707.10" stroke="#333" stroke-width="0.7" />
<text x="332.12" y="711.90" font-size="4.4" fill="#444" text-anchor="middle">-10<tspan font-size="2.5" dy="-1">3</tspan></text>
<line x1="349.81" y1="705.60" x2="349.81" y2="707.10" stroke="#333" stroke-width="0.7" />
<text x="349.81" y="711.90" font-size="4.4" fill="#444" text-anchor="middle">0</text>
<line x1="369.53" y1="705.60" x2="369.53" y2="707.10" stroke="#333" stroke-width="0.7" />
<text x="369.53" y="711.90" font-size="4.4" fill="#444" text-anchor="middle">10<tspan font-size="2.5" dy="-1">3</tspan></text>
<line x1="399.17" y1="705.60" x2="399.17" y2="707.10" stroke="#333" stroke-width="0.7" />
<text x="399.17" y="711.90" font-size="4.4" fill="#444" text-anchor="middle">10<tspan font-size="2.5" dy="-1">4</tspan></text>
<line x1="427.69" y1="705.60" x2="427.69" y2="707.10" stroke="#333" stroke-width="0.7" />
<text x="427.69" y="711.90" font-size="4.4" fill="#444" text-anchor="middle">10<tspan font-size="2.5" dy="-1">5</tspan></text>
<path d="M358.55,705.60 L359.89,705.48 L361.24,703.17 L362.58,701.87 L363.93,703.72 L365.28,702.98 L366.62,702.88 L367.63,704.62 L368.64,701.61 L369.65,700.86 L370.66,702.69 L371.67,698.84 L372.68,701.16 L373.69,699.85 L374.70,701.25 L375.71,697.15 L376.72,694.80 L377.73,692.78 L378.73,696.56 L379.74,689.75 L380.75,695.21 L381.76,690.76 L382.77,691.16 L383.78,683.69 L384.79,687.67 L385.80,681.67 L387.21,673.59 L388.83,661.46 L390.44,664.49 L391.86,659.44 L393.27,650.35 L394.89,643.28 L396.50,641.26 L397.91,646.31 L398.92,639.24 L400.54,645.30 L401.95,641.26 L403.36,634.19 L404.98,651.36 L405.99,661.99 L407.00,657.42 L408.01,671.52 L409.02,663.48 L410.63,671.57 L412.05,679.65 L413.06,688.79 L414.06,686.72 L415.07,693.86 L416.08,689.75 L417.09,694.44 L418.10,691.96 L419.11,692.78 L420.12,698.81 L421.13,695.81 L422.34,701.65 L423.55,698.84 L424.87,702.93 L426.18,699.85 L427.19,703.78 L428.20,701.62 L429.21,701.87 L430.22,705.00 L431.22,702.65 L432.23,702.88 L433.65,695.81 L434.66,705.60 Z" fill="#3b3b3b" stroke="none"/>
<path d="M358.55,705.60 L359.89,705.48 L361.24,703.17 L362.58,701.87 L363.93,703.72 L365.28,702.98 L366.62,702.88 L367.63,704.62 L368.64,701.61 L369.65,700.86 L370.66,702.69 L371.67,698.84 L372.68,701.16 L373.69,699.85 L374.70,701.25 L375.71,697.15 L376.72,694.80 L377.73,692.78 L378.73,696.56 L379.74,689.75 L380.75,695.21 L381.76,690.76 L382.77,691.16 L383.78,683.69 L384.79,687.67 L385.80,681.67 L387.21,673.59 L388.83,661.46 L390.44,664.49 L391.86,659.44 L393.27,650.35 L394.89,643.28 L396.50,641.26 L397.91,646.31 L398.92,639.24 L400.54,645.30 L401.95,641.26 L403.36,634.19 L404.98,651.36 L405.99,661.99 L407.00,657.42 L408.01,671.52 L409.02,663.48 L410.63,671.57 L412.05,679.65 L413.06,688.79 L414.06,686.72 L415.07,693.86 L416.08,689.75 L417.09,694.44 L418.10,691.96 L419.11,692.78 L420.12,698.81 L421.13,695.81 L422.34,701.65 L423.55,698.84 L424.87,702.93 L426.18,699.85 L427.19,703.78 L428.20,701.62 L429.21,701.87 L430.22,705.00 L431.22,702.65 L432.23,702.88 L433.65,695.81 L434.66,705.60" fill="none" stroke="#000" stroke-width="1.7" stroke-linejoin="miter" stroke-miterlimit="3"/>
<line x1="434.90" y1="630.90" x2="434.90" y2="705.60" stroke="#666" stroke-width="0.8" />
<text x="0" y="0" transform="translate(346.20,654.30) scale(0.9,1)" font-size="14.3" font-weight="bold" text-anchor="middle" fill="#000" stroke="#000" stroke-width="0.15" >4.6</text>
<line x1="325.20" y1="673.60" x2="380.80" y2="673.60" stroke="#000" stroke-width="1.0" />
<line x1="325.20" y1="671.80" x2="325.20" y2="675.40" stroke="#000" stroke-width="1.6" />
<line x1="380.80" y1="671.80" x2="380.80" y2="675.40" stroke="#000" stroke-width="1.6" />
<line x1="474.40" y1="457.70" x2="587.00" y2="457.70" stroke="#8a8a8a" stroke-width="1.2" />
<line x1="474.40" y1="457.70" x2="474.40" y2="532.00" stroke="#000" stroke-width="1.1" stroke-dasharray="1.6 1.4"/>
<line x1="473.90" y1="532.00" x2="587.00" y2="532.00" stroke="#000" stroke-width="1.3" />
<line x1="472.80" y1="532.00" x2="474.40" y2="532.00" stroke="#000" stroke-width="1.0" />
<rect x="468.80" y="531.10" width="2.60" height="1.70" fill="#666" stroke="none" stroke-width="1" />
<line x1="472.80" y1="514.92" x2="474.40" y2="514.92" stroke="#000" stroke-width="1.0" />
<rect x="468.80" y="514.02" width="2.60" height="1.70" fill="#666" stroke="none" stroke-width="1" />
<line x1="472.80" y1="497.85" x2="474.40" y2="497.85" stroke="#000" stroke-width="1.0" />
<rect x="468.80" y="496.95" width="2.60" height="1.70" fill="#666" stroke="none" stroke-width="1" />
<line x1="472.80" y1="480.77" x2="474.40" y2="480.77" stroke="#000" stroke-width="1.0" />
<rect x="468.80" y="479.88" width="2.60" height="1.70" fill="#666" stroke="none" stroke-width="1" />
<line x1="472.80" y1="463.70" x2="474.40" y2="463.70" stroke="#000" stroke-width="1.0" />
<rect x="468.80" y="462.80" width="2.60" height="1.70" fill="#666" stroke="none" stroke-width="1" />
<line x1="484.31" y1="532.00" x2="484.31" y2="533.50" stroke="#333" stroke-width="0.7" />
<text x="484.31" y="538.30" font-size="4.4" fill="#444" text-anchor="middle">-10<tspan font-size="2.5" dy="-1">3</tspan></text>
<line x1="501.99" y1="532.00" x2="501.99" y2="533.50" stroke="#333" stroke-width="0.7" />
<text x="501.99" y="538.30" font-size="4.4" fill="#444" text-anchor="middle">0</text>
<line x1="521.69" y1="532.00" x2="521.69" y2="533.50" stroke="#333" stroke-width="0.7" />
<text x="521.69" y="538.30" font-size="4.4" fill="#444" text-anchor="middle">10<tspan font-size="2.5" dy="-1">3</tspan></text>
<line x1="551.31" y1="532.00" x2="551.31" y2="533.50" stroke="#333" stroke-width="0.7" />
<text x="551.31" y="538.30" font-size="4.4" fill="#444" text-anchor="middle">10<tspan font-size="2.5" dy="-1">4</tspan></text>
<line x1="579.79" y1="532.00" x2="579.79" y2="533.50" stroke="#333" stroke-width="0.7" />
<text x="579.79" y="538.30" font-size="4.4" fill="#444" text-anchor="middle">10<tspan font-size="2.5" dy="-1">5</tspan></text>
<path d="M497.38,532.00 L498.67,532.00 L499.96,532.00 L501.25,532.00 L502.54,532.00 L503.84,532.00 L504.91,531.90 L505.99,531.51 L507.07,531.87 L508.14,530.95 L509.22,531.97 L510.30,530.52 L511.37,531.94 L512.45,529.87 L513.53,531.98 L514.60,529.24 L515.68,530.32 L516.76,527.72 L517.83,528.62 L518.91,525.69 L519.99,524.49 L521.06,525.19 L522.14,521.26 L523.22,521.81 L524.29,516.95 L525.80,514.79 L527.52,518.03 L528.60,522.93 L529.68,520.18 L530.75,525.45 L531.83,522.33 L533.12,525.30 L534.41,520.18 L536.14,515.87 L537.86,510.48 L539.37,501.87 L540.44,503.77 L541.52,493.25 L542.60,499.08 L543.67,488.94 L544.75,493.54 L545.83,478.17 L546.90,480.30 L547.98,469.55 L549.49,465.24 L551.21,472.78 L552.93,462.01 L554.44,469.55 L555.95,478.17 L557.67,480.32 L558.75,486.79 L559.83,498.20 L560.90,493.25 L561.98,505.38 L563.06,500.79 L564.13,510.20 L565.21,506.18 L566.61,514.62 L568.01,511.56 L569.30,518.78 L570.59,518.03 L571.88,522.23 L573.18,521.26 L574.58,526.99 L575.98,525.57 L577.05,528.84 L578.13,528.11 L579.21,528.80 L580.28,531.96 L581.36,530.34 L582.44,530.95 L583.51,531.65 L584.59,530.95 L586.10,523.41 L586.74,532.00 Z" fill="#3b3b3b" stroke="none"/>
<path d="M497.38,532.00 L498.67,532.00 L499.96,532.00 L501.25,532.00 L502.54,532.00 L503.84,532.00 L504.91,531.90 L505.99,531.51 L507.07,531.87 L508.14,530.95 L509.22,531.97 L510.30,530.52 L511.37,531.94 L512.45,529.87 L513.53,531.98 L514.60,529.24 L515.68,530.32 L516.76,527.72 L517.83,528.62 L518.91,525.69 L519.99,524.49 L521.06,525.19 L522.14,521.26 L523.22,521.81 L524.29,516.95 L525.80,514.79 L527.52,518.03 L528.60,522.93 L529.68,520.18 L530.75,525.45 L531.83,522.33 L533.12,525.30 L534.41,520.18 L536.14,515.87 L537.86,510.48 L539.37,501.87 L540.44,503.77 L541.52,493.25 L542.60,499.08 L543.67,488.94 L544.75,493.54 L545.83,478.17 L546.90,480.30 L547.98,469.55 L549.49,465.24 L551.21,472.78 L552.93,462.01 L554.44,469.55 L555.95,478.17 L557.67,480.32 L558.75,486.79 L559.83,498.20 L560.90,493.25 L561.98,505.38 L563.06,500.79 L564.13,510.20 L565.21,506.18 L566.61,514.62 L568.01,511.56 L569.30,518.78 L570.59,518.03 L571.88,522.23 L573.18,521.26 L574.58,526.99 L575.98,525.57 L577.05,528.84 L578.13,528.11 L579.21,528.80 L580.28,531.96 L581.36,530.34 L582.44,530.95 L583.51,531.65 L584.59,530.95 L586.10,523.41 L586.74,532.00" fill="none" stroke="#000" stroke-width="1.7" stroke-linejoin="miter" stroke-miterlimit="3"/>
<line x1="587.00" y1="457.70" x2="587.00" y2="532.00" stroke="#666" stroke-width="0.8" />
<text x="0" y="0" transform="translate(501.60,475.50) scale(0.9,1)" font-size="14.3" font-weight="bold" text-anchor="middle" fill="#000" stroke="#000" stroke-width="0.15" >11.6</text>
<line x1="477.00" y1="501.00" x2="533.00" y2="501.00" stroke="#000" stroke-width="1.0" />
<line x1="477.00" y1="499.20" x2="477.00" y2="502.80" stroke="#000" stroke-width="1.6" />
<line x1="533.00" y1="499.20" x2="533.00" y2="502.80" stroke="#000" stroke-width="1.6" />
<line x1="474.40" y1="543.70" x2="587.20" y2="543.70" stroke="#8a8a8a" stroke-width="1.2" />
<line x1="474.40" y1="543.70" x2="474.40" y2="618.20" stroke="#000" stroke-width="1.1" stroke-dasharray="1.6 1.4"/>
<line x1="473.90" y1="618.20" x2="587.20" y2="618.20" stroke="#000" stroke-width="1.3" />
<line x1="472.80" y1="618.20" x2="474.40" y2="618.20" stroke="#000" stroke-width="1.0" />
<rect x="468.80" y="617.30" width="2.60" height="1.70" fill="#666" stroke="none" stroke-width="1" />
<line x1="472.80" y1="601.08" x2="474.40" y2="601.08" stroke="#000" stroke-width="1.0" />
<rect x="468.80" y="600.18" width="2.60" height="1.70" fill="#666" stroke="none" stroke-width="1" />
<line x1="472.80" y1="583.95" x2="474.40" y2="583.95" stroke="#000" stroke-width="1.0" />
<rect x="468.80" y="583.05" width="2.60" height="1.70" fill="#666" stroke="none" stroke-width="1" />
<line x1="472.80" y1="566.83" x2="474.40" y2="566.83" stroke="#000" stroke-width="1.0" />
<rect x="468.80" y="565.93" width="2.60" height="1.70" fill="#666" stroke="none" stroke-width="1" />
<line x1="472.80" y1="549.70" x2="474.40" y2="549.70" stroke="#000" stroke-width="1.0" />
<rect x="468.80" y="548.80" width="2.60" height="1.70" fill="#666" stroke="none" stroke-width="1" />
<line x1="484.33" y1="618.20" x2="484.33" y2="619.70" stroke="#333" stroke-width="0.7" />
<text x="484.33" y="624.50" font-size="4.4" fill="#444" text-anchor="middle">-10<tspan font-size="2.5" dy="-1">3</tspan></text>
<line x1="502.04" y1="618.20" x2="502.04" y2="619.70" stroke="#333" stroke-width="0.7" />
<text x="502.04" y="624.50" font-size="4.4" fill="#444" text-anchor="middle">0</text>
<line x1="521.78" y1="618.20" x2="521.78" y2="619.70" stroke="#333" stroke-width="0.7" />
<text x="521.78" y="624.50" font-size="4.4" fill="#444" text-anchor="middle">10<tspan font-size="2.5" dy="-1">3</tspan></text>
<line x1="551.44" y1="618.20" x2="551.44" y2="619.70" stroke="#333" stroke-width="0.7" />
<text x="551.44" y="624.50" font-size="4.4" fill="#444" text-anchor="middle">10<tspan font-size="2.5" dy="-1">4</tspan></text>
<line x1="579.98" y1="618.20" x2="579.98" y2="619.70" stroke="#333" stroke-width="0.7" />
<text x="579.98" y="624.50" font-size="4.4" fill="#444" text-anchor="middle">10<tspan font-size="2.5" dy="-1">5</tspan></text>
<path d="M498.45,618.20 L499.66,618.20 L500.87,618.09 L502.09,618.11 L503.30,617.95 L504.51,617.88 L505.85,617.74 L507.20,616.76 L508.55,615.86 L509.56,617.51 L510.57,612.83 L511.57,613.63 L512.58,609.80 L514.20,605.76 L515.61,606.77 L516.62,607.24 L517.63,594.65 L518.64,605.63 L519.65,600.71 L520.66,604.20 L521.67,594.65 L522.68,602.01 L523.69,598.69 L524.70,602.11 L525.71,592.63 L526.72,600.57 L527.73,599.70 L528.73,601.80 L529.74,596.67 L530.75,603.36 L531.76,592.63 L533.18,606.77 L534.79,599.70 L535.80,600.61 L536.81,586.57 L537.82,596.35 L538.83,590.61 L539.84,597.20 L540.85,582.53 L542.46,578.48 L543.88,571.41 L544.89,582.66 L545.90,573.43 L546.90,583.97 L547.91,565.35 L549.33,556.26 L550.94,562.32 L552.56,554.24 L553.97,548.18 L554.98,558.28 L555.99,578.23 L557.00,566.36 L558.01,560.30 L559.02,575.70 L560.03,572.42 L561.04,579.05 L562.05,567.37 L563.46,582.53 L565.07,590.61 L566.08,599.22 L567.09,596.67 L568.10,603.21 L569.11,600.71 L570.12,607.09 L571.13,602.73 L572.14,608.81 L573.15,607.78 L574.16,613.04 L575.17,611.82 L576.18,614.89 L577.19,613.84 L578.20,617.83 L579.21,615.35 L580.22,615.86 L581.22,617.60 L582.23,616.68 L583.24,616.87 L584.45,618.08 L585.67,614.85 L586.88,610.81 L587.28,618.20 Z" fill="#3b3b3b" stroke="none"/>
<path d="M498.45,618.20 L499.66,618.20 L500.87,618.09 L502.09,618.11 L503.30,617.95 L504.51,617.88 L505.85,617.74 L507.20,616.76 L508.55,615.86 L509.56,617.51 L510.57,612.83 L511.57,613.63 L512.58,609.80 L514.20,605.76 L515.61,606.77 L516.62,607.24 L517.63,594.65 L518.64,605.63 L519.65,600.71 L520.66,604.20 L521.67,594.65 L522.68,602.01 L523.69,598.69 L524.70,602.11 L525.71,592.63 L526.72,600.57 L527.73,599.70 L528.73,601.80 L529.74,596.67 L530.75,603.36 L531.76,592.63 L533.18,606.77 L534.79,599.70 L535.80,600.61 L536.81,586.57 L537.82,596.35 L538.83,590.61 L539.84,597.20 L540.85,582.53 L542.46,578.48 L543.88,571.41 L544.89,582.66 L545.90,573.43 L546.90,583.97 L547.91,565.35 L549.33,556.26 L550.94,562.32 L552.56,554.24 L553.97,548.18 L554.98,558.28 L555.99,578.23 L557.00,566.36 L558.01,560.30 L559.02,575.70 L560.03,572.42 L561.04,579.05 L562.05,567.37 L563.46,582.53 L565.07,590.61 L566.08,599.22 L567.09,596.67 L568.10,603.21 L569.11,600.71 L570.12,607.09 L571.13,602.73 L572.14,608.81 L573.15,607.78 L574.16,613.04 L575.17,611.82 L576.18,614.89 L577.19,613.84 L578.20,617.83 L579.21,615.35 L580.22,615.86 L581.22,617.60 L582.23,616.68 L583.24,616.87 L584.45,618.08 L585.67,614.85 L586.88,610.81 L587.28,618.20" fill="none" stroke="#000" stroke-width="1.7" stroke-linejoin="miter" stroke-miterlimit="3"/>
<line x1="587.20" y1="543.70" x2="587.20" y2="618.20" stroke="#666" stroke-width="0.8" />
<text x="0" y="0" transform="translate(502.20,563.20) scale(0.9,1)" font-size="14.3" font-weight="bold" text-anchor="middle" fill="#000" stroke="#000" stroke-width="0.15" >20.0</text>
<line x1="477.90" y1="586.10" x2="533.80" y2="586.10" stroke="#000" stroke-width="1.0" />
<line x1="477.90" y1="584.30" x2="477.90" y2="587.90" stroke="#000" stroke-width="1.6" />
<line x1="533.80" y1="584.30" x2="533.80" y2="587.90" stroke="#000" stroke-width="1.6" />
<line x1="474.00" y1="632.40" x2="587.20" y2="632.40" stroke="#8a8a8a" stroke-width="1.2" />
<line x1="474.00" y1="632.40" x2="474.00" y2="706.60" stroke="#000" stroke-width="1.1" stroke-dasharray="1.6 1.4"/>
<line x1="473.50" y1="706.60" x2="587.20" y2="706.60" stroke="#000" stroke-width="1.3" />
<line x1="472.40" y1="706.60" x2="474.00" y2="706.60" stroke="#000" stroke-width="1.0" />
<rect x="468.40" y="705.70" width="2.60" height="1.70" fill="#666" stroke="none" stroke-width="1" />
<line x1="472.40" y1="689.55" x2="474.00" y2="689.55" stroke="#000" stroke-width="1.0" />
<rect x="468.40" y="688.65" width="2.60" height="1.70" fill="#666" stroke="none" stroke-width="1" />
<line x1="472.40" y1="672.50" x2="474.00" y2="672.50" stroke="#000" stroke-width="1.0" />
<rect x="468.40" y="671.60" width="2.60" height="1.70" fill="#666" stroke="none" stroke-width="1" />
<line x1="472.40" y1="655.45" x2="474.00" y2="655.45" stroke="#000" stroke-width="1.0" />
<rect x="468.40" y="654.55" width="2.60" height="1.70" fill="#666" stroke="none" stroke-width="1" />
<line x1="472.40" y1="638.40" x2="474.00" y2="638.40" stroke="#000" stroke-width="1.0" />
<rect x="468.40" y="637.50" width="2.60" height="1.70" fill="#666" stroke="none" stroke-width="1" />
<line x1="483.96" y1="706.60" x2="483.96" y2="708.10" stroke="#333" stroke-width="0.7" />
<text x="483.96" y="712.90" font-size="4.4" fill="#444" text-anchor="middle">-10<tspan font-size="2.5" dy="-1">3</tspan></text>
<line x1="501.73" y1="706.60" x2="501.73" y2="708.10" stroke="#333" stroke-width="0.7" />
<text x="501.73" y="712.90" font-size="4.4" fill="#444" text-anchor="middle">0</text>
<line x1="521.54" y1="706.60" x2="521.54" y2="708.10" stroke="#333" stroke-width="0.7" />
<text x="521.54" y="712.90" font-size="4.4" fill="#444" text-anchor="middle">10<tspan font-size="2.5" dy="-1">3</tspan></text>
<line x1="551.32" y1="706.60" x2="551.32" y2="708.10" stroke="#333" stroke-width="0.7" />
<text x="551.32" y="712.90" font-size="4.4" fill="#444" text-anchor="middle">10<tspan font-size="2.5" dy="-1">4</tspan></text>
<line x1="579.96" y1="706.60" x2="579.96" y2="708.10" stroke="#333" stroke-width="0.7" />
<text x="579.96" y="712.90" font-size="4.4" fill="#444" text-anchor="middle">10<tspan font-size="2.5" dy="-1">5</tspan></text>
<path d="M498.45,706.60 L499.61,706.59 L500.76,706.53 L501.91,706.57 L503.07,706.45 L504.22,706.55 L505.37,706.35 L506.53,706.31 L507.54,706.26 L508.55,704.75 L509.56,703.89 L510.57,703.38 L511.57,699.85 L512.58,701.46 L513.59,695.81 L515.01,691.77 L516.62,686.72 L517.63,689.12 L518.64,684.70 L520.26,681.67 L521.67,685.71 L522.68,688.83 L523.69,682.68 L525.10,681.67 L526.72,687.73 L527.73,694.44 L528.73,691.77 L530.35,684.70 L531.76,689.75 L533.18,696.82 L534.79,691.77 L536.41,685.71 L537.82,675.61 L538.83,679.53 L539.84,670.56 L540.85,673.08 L541.86,663.48 L543.27,655.40 L544.89,649.34 L546.50,642.27 L547.91,639.24 L549.33,645.30 L550.94,641.26 L552.56,648.33 L553.97,635.20 L555.38,645.30 L557.00,646.31 L558.01,658.76 L559.02,652.37 L560.63,657.42 L561.64,669.49 L562.65,665.51 L563.66,677.63 L564.67,673.59 L565.68,681.55 L566.69,681.67 L567.90,690.02 L569.11,688.74 L570.12,694.35 L571.13,693.79 L572.34,698.48 L573.55,697.83 L574.87,702.25 L576.18,699.85 L577.19,703.44 L578.20,702.15 L579.21,702.88 L580.22,705.91 L581.22,703.97 L582.23,703.89 L583.55,705.08 L584.86,701.87 L585.87,701.47 L586.88,694.80 L587.28,706.60 Z" fill="#3b3b3b" stroke="none"/>
<path d="M498.45,706.60 L499.61,706.59 L500.76,706.53 L501.91,706.57 L503.07,706.45 L504.22,706.55 L505.37,706.35 L506.53,706.31 L507.54,706.26 L508.55,704.75 L509.56,703.89 L510.57,703.38 L511.57,699.85 L512.58,701.46 L513.59,695.81 L515.01,691.77 L516.62,686.72 L517.63,689.12 L518.64,684.70 L520.26,681.67 L521.67,685.71 L522.68,688.83 L523.69,682.68 L525.10,681.67 L526.72,687.73 L527.73,694.44 L528.73,691.77 L530.35,684.70 L531.76,689.75 L533.18,696.82 L534.79,691.77 L536.41,685.71 L537.82,675.61 L538.83,679.53 L539.84,670.56 L540.85,673.08 L541.86,663.48 L543.27,655.40 L544.89,649.34 L546.50,642.27 L547.91,639.24 L549.33,645.30 L550.94,641.26 L552.56,648.33 L553.97,635.20 L555.38,645.30 L557.00,646.31 L558.01,658.76 L559.02,652.37 L560.63,657.42 L561.64,669.49 L562.65,665.51 L563.66,677.63 L564.67,673.59 L565.68,681.55 L566.69,681.67 L567.90,690.02 L569.11,688.74 L570.12,694.35 L571.13,693.79 L572.34,698.48 L573.55,697.83 L574.87,702.25 L576.18,699.85 L577.19,703.44 L578.20,702.15 L579.21,702.88 L580.22,705.91 L581.22,703.97 L582.23,703.89 L583.55,705.08 L584.86,701.87 L585.87,701.47 L586.88,694.80 L587.28,706.60" fill="none" stroke="#000" stroke-width="1.7" stroke-linejoin="miter" stroke-miterlimit="3"/>
<line x1="587.20" y1="632.40" x2="587.20" y2="706.60" stroke="#666" stroke-width="0.8" />
<text x="0" y="0" transform="translate(502.00,654.30) scale(0.9,1)" font-size="14.3" font-weight="bold" text-anchor="middle" fill="#000" stroke="#000" stroke-width="0.15" >1.8</text>
<line x1="476.90" y1="675.20" x2="532.80" y2="675.20" stroke="#000" stroke-width="1.0" />
<line x1="476.90" y1="673.40" x2="476.90" y2="677.00" stroke="#000" stroke-width="1.6" />
<line x1="532.80" y1="673.40" x2="532.80" y2="677.00" stroke="#000" stroke-width="1.6" />
<line x1="631.00" y1="458.40" x2="631.00" y2="532.50" stroke="#000" stroke-width="1.1" stroke-dasharray="1.6 1.4"/>
<line x1="630.50" y1="532.50" x2="742.20" y2="532.50" stroke="#000" stroke-width="1.3" />
<line x1="629.40" y1="532.50" x2="631.00" y2="532.50" stroke="#000" stroke-width="1.0" />
<rect x="625.40" y="531.60" width="2.60" height="1.70" fill="#666" stroke="none" stroke-width="1" />
<line x1="629.40" y1="515.48" x2="631.00" y2="515.48" stroke="#000" stroke-width="1.0" />
<rect x="625.40" y="514.58" width="2.60" height="1.70" fill="#666" stroke="none" stroke-width="1" />
<line x1="629.40" y1="498.45" x2="631.00" y2="498.45" stroke="#000" stroke-width="1.0" />
<rect x="625.40" y="497.55" width="2.60" height="1.70" fill="#666" stroke="none" stroke-width="1" />
<line x1="629.40" y1="481.42" x2="631.00" y2="481.42" stroke="#000" stroke-width="1.0" />
<rect x="625.40" y="480.52" width="2.60" height="1.70" fill="#666" stroke="none" stroke-width="1" />
<line x1="629.40" y1="464.40" x2="631.00" y2="464.40" stroke="#000" stroke-width="1.0" />
<rect x="625.40" y="463.50" width="2.60" height="1.70" fill="#666" stroke="none" stroke-width="1" />
<line x1="640.79" y1="532.50" x2="640.79" y2="534.00" stroke="#333" stroke-width="0.7" />
<text x="640.79" y="538.80" font-size="4.4" fill="#444" text-anchor="middle">-10<tspan font-size="2.5" dy="-1">3</tspan></text>
<line x1="658.24" y1="532.50" x2="658.24" y2="534.00" stroke="#333" stroke-width="0.7" />
<text x="658.24" y="538.80" font-size="4.4" fill="#444" text-anchor="middle">0</text>
<line x1="677.70" y1="532.50" x2="677.70" y2="534.00" stroke="#333" stroke-width="0.7" />
<text x="677.70" y="538.80" font-size="4.4" fill="#444" text-anchor="middle">10<tspan font-size="2.5" dy="-1">3</tspan></text>
<line x1="706.95" y1="532.50" x2="706.95" y2="534.00" stroke="#333" stroke-width="0.7" />
<text x="706.95" y="538.80" font-size="4.4" fill="#444" text-anchor="middle">10<tspan font-size="2.5" dy="-1">4</tspan></text>
<line x1="735.08" y1="532.50" x2="735.08" y2="534.00" stroke="#333" stroke-width="0.7" />
<text x="735.08" y="538.80" font-size="4.4" fill="#444" text-anchor="middle">10<tspan font-size="2.5" dy="-1">5</tspan></text>
<path d="M653.87,532.50 L655.01,532.48 L656.14,532.35 L657.27,532.46 L658.40,532.19 L659.53,532.09 L660.94,532.15 L662.35,530.20 L663.30,530.03 L664.24,525.49 L665.18,525.40 L666.12,517.96 L667.06,517.26 L668.01,508.54 L668.95,501.00 L670.46,491.59 L671.78,482.17 L673.09,474.63 L674.22,468.04 L675.17,466.15 L676.11,461.44 L676.86,469.92 L677.99,471.81 L679.31,474.63 L680.63,480.28 L682.14,484.99 L683.65,493.47 L684.97,499.12 L685.91,507.69 L686.85,504.77 L687.79,512.50 L688.73,509.48 L689.68,513.91 L690.62,512.31 L691.56,516.47 L692.50,513.25 L693.44,518.74 L694.39,515.13 L695.33,520.15 L696.27,517.02 L697.21,517.54 L698.15,513.25 L699.10,514.41 L700.04,510.42 L700.98,512.70 L701.92,507.60 L702.87,509.40 L703.81,505.71 L704.75,508.60 L705.69,504.77 L706.63,506.74 L707.58,502.89 L708.52,508.27 L709.46,503.83 L710.40,510.33 L711.34,506.66 L712.29,513.61 L713.23,510.42 L714.17,514.50 L715.11,513.25 L716.06,519.42 L717.00,517.96 L717.94,523.11 L718.88,521.73 L719.82,525.50 L720.77,525.49 L722.18,529.87 L723.59,528.32 L724.85,531.82 L726.10,529.67 L727.36,530.20 L728.62,532.45 L729.87,530.93 L731.13,531.15 L732.39,532.15 L733.64,531.56 L734.90,531.52 L736.15,532.43 L737.41,531.91 L738.67,532.09 L739.80,532.41 L740.93,532.37 L742.06,532.50 Z" fill="#3b3b3b" stroke="none"/>
<path d="M653.87,532.50 L655.01,532.48 L656.14,532.35 L657.27,532.46 L658.40,532.19 L659.53,532.09 L660.94,532.15 L662.35,530.20 L663.30,530.03 L664.24,525.49 L665.18,525.40 L666.12,517.96 L667.06,517.26 L668.01,508.54 L668.95,501.00 L670.46,491.59 L671.78,482.17 L673.09,474.63 L674.22,468.04 L675.17,466.15 L676.11,461.44 L676.86,469.92 L677.99,471.81 L679.31,474.63 L680.63,480.28 L682.14,484.99 L683.65,493.47 L684.97,499.12 L685.91,507.69 L686.85,504.77 L687.79,512.50 L688.73,509.48 L689.68,513.91 L690.62,512.31 L691.56,516.47 L692.50,513.25 L693.44,518.74 L694.39,515.13 L695.33,520.15 L696.27,517.02 L697.21,517.54 L698.15,513.25 L699.10,514.41 L700.04,510.42 L700.98,512.70 L701.92,507.60 L702.87,509.40 L703.81,505.71 L704.75,508.60 L705.69,504.77 L706.63,506.74 L707.58,502.89 L708.52,508.27 L709.46,503.83 L710.40,510.33 L711.34,506.66 L712.29,513.61 L713.23,510.42 L714.17,514.50 L715.11,513.25 L716.06,519.42 L717.00,517.96 L717.94,523.11 L718.88,521.73 L719.82,525.50 L720.77,525.49 L722.18,529.87 L723.59,528.32 L724.85,531.82 L726.10,529.67 L727.36,530.20 L728.62,532.45 L729.87,530.93 L731.13,531.15 L732.39,532.15 L733.64,531.56 L734.90,531.52 L736.15,532.43 L737.41,531.91 L738.67,532.09 L739.80,532.41 L740.93,532.37 L742.06,532.50" fill="none" stroke="#000" stroke-width="1.7" stroke-linejoin="miter" stroke-miterlimit="3"/>
<line x1="742.20" y1="458.40" x2="742.20" y2="532.50" stroke="#666" stroke-width="0.8" />
<text x="0" y="0" transform="translate(655.00,476.10) scale(0.9,1)" font-size="14.3" font-weight="bold" text-anchor="middle" fill="#000" stroke="#000" stroke-width="0.15" >57.7</text>
<line x1="634.10" y1="501.00" x2="688.70" y2="501.00" stroke="#000" stroke-width="1.0" />
<line x1="634.10" y1="499.20" x2="634.10" y2="502.80" stroke="#000" stroke-width="1.6" />
<line x1="688.70" y1="499.20" x2="688.70" y2="502.80" stroke="#000" stroke-width="1.6" />
<line x1="629.40" y1="543.60" x2="742.20" y2="543.60" stroke="#8a8a8a" stroke-width="1.2" />
<line x1="629.40" y1="543.60" x2="629.40" y2="618.20" stroke="#000" stroke-width="1.1" stroke-dasharray="1.6 1.4"/>
<line x1="628.90" y1="618.20" x2="742.20" y2="618.20" stroke="#000" stroke-width="1.3" />
<line x1="627.80" y1="618.20" x2="629.40" y2="618.20" stroke="#000" stroke-width="1.0" />
<rect x="623.80" y="617.30" width="2.60" height="1.70" fill="#666" stroke="none" stroke-width="1" />
<line x1="627.80" y1="601.05" x2="629.40" y2="601.05" stroke="#000" stroke-width="1.0" />
<rect x="623.80" y="600.15" width="2.60" height="1.70" fill="#666" stroke="none" stroke-width="1" />
<line x1="627.80" y1="583.90" x2="629.40" y2="583.90" stroke="#000" stroke-width="1.0" />
<rect x="623.80" y="583.00" width="2.60" height="1.70" fill="#666" stroke="none" stroke-width="1" />
<line x1="627.80" y1="566.75" x2="629.40" y2="566.75" stroke="#000" stroke-width="1.0" />
<rect x="623.80" y="565.85" width="2.60" height="1.70" fill="#666" stroke="none" stroke-width="1" />
<line x1="627.80" y1="549.60" x2="629.40" y2="549.60" stroke="#000" stroke-width="1.0" />
<rect x="623.80" y="548.70" width="2.60" height="1.70" fill="#666" stroke="none" stroke-width="1" />
<line x1="639.33" y1="618.20" x2="639.33" y2="619.70" stroke="#333" stroke-width="0.7" />
<text x="639.33" y="624.50" font-size="4.4" fill="#444" text-anchor="middle">-10<tspan font-size="2.5" dy="-1">3</tspan></text>
<line x1="657.04" y1="618.20" x2="657.04" y2="619.70" stroke="#333" stroke-width="0.7" />
<text x="657.04" y="624.50" font-size="4.4" fill="#444" text-anchor="middle">0</text>
<line x1="676.78" y1="618.20" x2="676.78" y2="619.70" stroke="#333" stroke-width="0.7" />
<text x="676.78" y="624.50" font-size="4.4" fill="#444" text-anchor="middle">10<tspan font-size="2.5" dy="-1">3</tspan></text>
<line x1="706.44" y1="618.20" x2="706.44" y2="619.70" stroke="#333" stroke-width="0.7" />
<text x="706.44" y="624.50" font-size="4.4" fill="#444" text-anchor="middle">10<tspan font-size="2.5" dy="-1">4</tspan></text>
<line x1="734.98" y1="618.20" x2="734.98" y2="619.70" stroke="#333" stroke-width="0.7" />
<text x="734.98" y="624.50" font-size="4.4" fill="#444" text-anchor="middle">10<tspan font-size="2.5" dy="-1">5</tspan></text>
<path d="M650.11,618.20 L651.24,618.11 L652.37,617.74 L653.50,617.93 L654.63,617.35 L655.76,617.01 L657.02,617.15 L658.27,615.72 L659.53,614.75 L660.94,614.24 L662.35,609.10 L663.30,607.28 L664.24,601.56 L665.18,599.40 L666.12,590.26 L667.06,589.35 L668.01,577.08 L669.33,567.66 L670.83,558.25 L671.78,550.72 L672.72,554.48 L673.66,547.89 L674.98,556.37 L676.49,562.02 L677.99,567.66 L679.31,576.14 L680.63,581.79 L682.14,588.38 L683.08,596.13 L684.02,594.97 L684.97,599.47 L685.91,598.74 L686.85,604.64 L687.79,600.62 L688.73,605.76 L689.68,602.50 L690.62,606.64 L691.56,601.56 L692.50,605.29 L693.44,604.39 L694.39,604.39 L695.33,598.74 L696.27,602.48 L697.21,601.56 L698.15,603.24 L699.10,595.91 L700.04,590.26 L701.36,595.91 L702.87,591.21 L704.37,588.38 L705.69,594.03 L706.63,598.35 L707.58,595.91 L708.52,598.78 L709.46,595.91 L710.40,601.38 L711.34,599.68 L712.29,605.26 L713.23,601.56 L714.64,607.49 L716.06,605.33 L717.47,609.57 L718.88,609.10 L720.29,612.39 L721.71,611.92 L723.12,615.94 L724.53,613.80 L725.79,616.73 L727.05,615.37 L728.30,615.69 L729.48,617.06 L730.66,616.18 L731.84,617.89 L733.01,616.63 L734.27,617.74 L735.53,616.89 L736.78,617.01 L738.20,618.17 L739.61,617.57 L740.55,618.07 L741.49,617.57 L742.06,618.20 Z" fill="#3b3b3b" stroke="none"/>
<path d="M650.11,618.20 L651.24,618.11 L652.37,617.74 L653.50,617.93 L654.63,617.35 L655.76,617.01 L657.02,617.15 L658.27,615.72 L659.53,614.75 L660.94,614.24 L662.35,609.10 L663.30,607.28 L664.24,601.56 L665.18,599.40 L666.12,590.26 L667.06,589.35 L668.01,577.08 L669.33,567.66 L670.83,558.25 L671.78,550.72 L672.72,554.48 L673.66,547.89 L674.98,556.37 L676.49,562.02 L677.99,567.66 L679.31,576.14 L680.63,581.79 L682.14,588.38 L683.08,596.13 L684.02,594.97 L684.97,599.47 L685.91,598.74 L686.85,604.64 L687.79,600.62 L688.73,605.76 L689.68,602.50 L690.62,606.64 L691.56,601.56 L692.50,605.29 L693.44,604.39 L694.39,604.39 L695.33,598.74 L696.27,602.48 L697.21,601.56 L698.15,603.24 L699.10,595.91 L700.04,590.26 L701.36,595.91 L702.87,591.21 L704.37,588.38 L705.69,594.03 L706.63,598.35 L707.58,595.91 L708.52,598.78 L709.46,595.91 L710.40,601.38 L711.34,599.68 L712.29,605.26 L713.23,601.56 L714.64,607.49 L716.06,605.33 L717.47,609.57 L718.88,609.10 L720.29,612.39 L721.71,611.92 L723.12,615.94 L724.53,613.80 L725.79,616.73 L727.05,615.37 L728.30,615.69 L729.48,617.06 L730.66,616.18 L731.84,617.89 L733.01,616.63 L734.27,617.74 L735.53,616.89 L736.78,617.01 L738.20,618.17 L739.61,617.57 L740.55,618.07 L741.49,617.57 L742.06,618.20" fill="none" stroke="#000" stroke-width="1.7" stroke-linejoin="miter" stroke-miterlimit="3"/>
<line x1="742.20" y1="543.60" x2="742.20" y2="618.20" stroke="#666" stroke-width="0.8" />
<text x="0" y="0" transform="translate(655.00,562.30) scale(0.9,1)" font-size="14.3" font-weight="bold" text-anchor="middle" fill="#000" stroke="#000" stroke-width="0.15" >60.0</text>
<line x1="632.20" y1="586.20" x2="688.20" y2="586.20" stroke="#000" stroke-width="1.0" />
<line x1="632.20" y1="584.40" x2="632.20" y2="588.00" stroke="#000" stroke-width="1.6" />
<line x1="688.20" y1="584.40" x2="688.20" y2="588.00" stroke="#000" stroke-width="1.6" />
<line x1="629.40" y1="632.90" x2="742.20" y2="632.90" stroke="#8a8a8a" stroke-width="1.2" />
<line x1="629.40" y1="632.90" x2="629.40" y2="707.00" stroke="#000" stroke-width="1.1" stroke-dasharray="1.6 1.4"/>
<line x1="628.90" y1="707.00" x2="742.20" y2="707.00" stroke="#000" stroke-width="1.3" />
<line x1="627.80" y1="707.00" x2="629.40" y2="707.00" stroke="#000" stroke-width="1.0" />
<rect x="623.80" y="706.10" width="2.60" height="1.70" fill="#666" stroke="none" stroke-width="1" />
<line x1="627.80" y1="689.98" x2="629.40" y2="689.98" stroke="#000" stroke-width="1.0" />
<rect x="623.80" y="689.08" width="2.60" height="1.70" fill="#666" stroke="none" stroke-width="1" />
<line x1="627.80" y1="672.95" x2="629.40" y2="672.95" stroke="#000" stroke-width="1.0" />
<rect x="623.80" y="672.05" width="2.60" height="1.70" fill="#666" stroke="none" stroke-width="1" />
<line x1="627.80" y1="655.92" x2="629.40" y2="655.92" stroke="#000" stroke-width="1.0" />
<rect x="623.80" y="655.02" width="2.60" height="1.70" fill="#666" stroke="none" stroke-width="1" />
<line x1="627.80" y1="638.90" x2="629.40" y2="638.90" stroke="#000" stroke-width="1.0" />
<rect x="623.80" y="638.00" width="2.60" height="1.70" fill="#666" stroke="none" stroke-width="1" />
<line x1="639.33" y1="707.00" x2="639.33" y2="708.50" stroke="#333" stroke-width="0.7" />
<text x="639.33" y="713.30" font-size="4.4" fill="#444" text-anchor="middle">-10<tspan font-size="2.5" dy="-1">3</tspan></text>
<line x1="657.04" y1="707.00" x2="657.04" y2="708.50" stroke="#333" stroke-width="0.7" />
<text x="657.04" y="713.30" font-size="4.4" fill="#444" text-anchor="middle">0</text>
<line x1="676.78" y1="707.00" x2="676.78" y2="708.50" stroke="#333" stroke-width="0.7" />
<text x="676.78" y="713.30" font-size="4.4" fill="#444" text-anchor="middle">10<tspan font-size="2.5" dy="-1">3</tspan></text>
<line x1="706.44" y1="707.00" x2="706.44" y2="708.50" stroke="#333" stroke-width="0.7" />
<text x="706.44" y="713.30" font-size="4.4" fill="#444" text-anchor="middle">10<tspan font-size="2.5" dy="-1">4</tspan></text>
<line x1="734.98" y1="707.00" x2="734.98" y2="708.50" stroke="#333" stroke-width="0.7" />
<text x="734.98" y="713.30" font-size="4.4" fill="#444" text-anchor="middle">10<tspan font-size="2.5" dy="-1">5</tspan></text>
<path d="M651.99,707.00 L653.12,706.99 L654.25,706.74 L655.38,706.97 L656.51,706.47 L657.64,706.34 L659.06,706.84 L660.47,703.51 L661.41,702.97 L662.35,697.86 L663.30,695.80 L664.24,688.45 L665.18,685.16 L666.12,673.38 L667.06,673.82 L668.01,660.20 L668.95,658.93 L669.89,647.02 L670.83,639.48 L671.78,636.66 L673.09,638.54 L674.22,645.13 L675.54,649.84 L676.86,653.61 L678.37,659.26 L679.31,666.63 L680.25,665.85 L681.20,674.78 L682.14,673.38 L683.08,680.24 L684.02,679.97 L684.97,685.11 L685.91,684.68 L686.85,689.23 L687.79,688.45 L688.73,692.04 L689.68,691.27 L690.62,694.17 L691.56,692.21 L692.50,695.74 L693.44,694.10 L694.39,697.47 L695.33,695.98 L696.27,698.45 L697.21,694.10 L698.15,695.69 L699.10,692.21 L700.04,694.88 L700.98,691.27 L701.92,693.23 L702.87,690.33 L703.81,693.21 L704.75,690.33 L705.69,692.84 L706.63,691.27 L707.58,694.29 L708.52,692.21 L709.46,694.62 L710.40,693.15 L711.34,697.13 L712.29,694.10 L713.23,697.57 L714.17,695.04 L715.11,698.98 L716.06,698.80 L717.47,702.14 L718.88,700.69 L720.29,704.66 L721.71,702.57 L723.12,704.55 L724.53,703.51 L725.95,706.75 L727.36,705.40 L728.62,706.60 L729.87,706.10 L731.13,706.34 L732.39,706.94 L733.64,706.38 L734.90,706.34 L736.15,706.82 L737.41,706.41 L738.67,706.34 L740.08,707.00 L741.49,706.71 L742.06,707.00 Z" fill="#3b3b3b" stroke="none"/>
<path d="M651.99,707.00 L653.12,706.99 L654.25,706.74 L655.38,706.97 L656.51,706.47 L657.64,706.34 L659.06,706.84 L660.47,703.51 L661.41,702.97 L662.35,697.86 L663.30,695.80 L664.24,688.45 L665.18,685.16 L666.12,673.38 L667.06,673.82 L668.01,660.20 L668.95,658.93 L669.89,647.02 L670.83,639.48 L671.78,636.66 L673.09,638.54 L674.22,645.13 L675.54,649.84 L676.86,653.61 L678.37,659.26 L679.31,666.63 L680.25,665.85 L681.20,674.78 L682.14,673.38 L683.08,680.24 L684.02,679.97 L684.97,685.11 L685.91,684.68 L686.85,689.23 L687.79,688.45 L688.73,692.04 L689.68,691.27 L690.62,694.17 L691.56,692.21 L692.50,695.74 L693.44,694.10 L694.39,697.47 L695.33,695.98 L696.27,698.45 L697.21,694.10 L698.15,695.69 L699.10,692.21 L700.04,694.88 L700.98,691.27 L701.92,693.23 L702.87,690.33 L703.81,693.21 L704.75,690.33 L705.69,692.84 L706.63,691.27 L707.58,694.29 L708.52,692.21 L709.46,694.62 L710.40,693.15 L711.34,697.13 L712.29,694.10 L713.23,697.57 L714.17,695.04 L715.11,698.98 L716.06,698.80 L717.47,702.14 L718.88,700.69 L720.29,704.66 L721.71,702.57 L723.12,704.55 L724.53,703.51 L725.95,706.75 L727.36,705.40 L728.62,706.60 L729.87,706.10 L731.13,706.34 L732.39,706.94 L733.64,706.38 L734.90,706.34 L736.15,706.82 L737.41,706.41 L738.67,706.34 L740.08,707.00 L741.49,706.71 L742.06,707.00" fill="none" stroke="#000" stroke-width="1.7" stroke-linejoin="miter" stroke-miterlimit="3"/>
<line x1="742.20" y1="632.90" x2="742.20" y2="707.00" stroke="#666" stroke-width="0.8" />
<text x="0" y="0" transform="translate(655.20,654.50) scale(0.9,1)" font-size="14.3" font-weight="bold" text-anchor="middle" fill="#000" stroke="#000" stroke-width="0.15" >70.7</text>
<line x1="632.80" y1="675.30" x2="688.20" y2="675.30" stroke="#000" stroke-width="1.0" />
<line x1="632.80" y1="673.50" x2="632.80" y2="677.10" stroke="#000" stroke-width="1.6" />
<line x1="688.20" y1="673.50" x2="688.20" y2="677.10" stroke="#000" stroke-width="1.6" />
<line x1="140.20" y1="787.00" x2="140.20" y2="1002.10" stroke="#000" stroke-width="1.6" />
<line x1="131.80" y1="787.00" x2="140.20" y2="787.00" stroke="#000" stroke-width="1.5" />
<text x="124.80" y="791.90" font-size="14" font-weight="bold" text-anchor="end" fill="#000" stroke="#000" stroke-width="0.15" >80</text>
<line x1="131.80" y1="840.58" x2="140.20" y2="840.58" stroke="#000" stroke-width="1.5" />
<text x="124.80" y="845.48" font-size="14" font-weight="bold" text-anchor="end" fill="#000" stroke="#000" stroke-width="0.15" >60</text>
<line x1="131.80" y1="894.15" x2="140.20" y2="894.15" stroke="#000" stroke-width="1.5" />
<text x="124.80" y="899.05" font-size="14" font-weight="bold" text-anchor="end" fill="#000" stroke="#000" stroke-width="0.15" >40</text>
<line x1="131.80" y1="947.72" x2="140.20" y2="947.72" stroke="#000" stroke-width="1.5" />
<text x="124.80" y="952.62" font-size="14" font-weight="bold" text-anchor="end" fill="#000" stroke="#000" stroke-width="0.15" >20</text>
<line x1="131.80" y1="1001.30" x2="140.20" y2="1001.30" stroke="#000" stroke-width="1.5" />
<text x="124.80" y="1006.20" font-size="14" font-weight="bold" text-anchor="end" fill="#000" stroke="#000" stroke-width="0.15" >0</text>
<line x1="131.80" y1="1001.30" x2="461.00" y2="1001.30" stroke="#000" stroke-width="1.8" />
<text x="0" y="0" font-size="16.5" font-weight="normal" text-anchor="middle" stroke="#000" stroke-width="0.45" transform="translate(94.80,882.80) rotate(-90) scale(1,1.04)">CFSE<tspan font-size="58%" font-weight="bold" baseline-shift="9" dx="1">–</tspan> cells (%)</text>
<text x="77.00" y="1050.00" font-size="16.5" font-weight="normal" text-anchor="start" fill="#000" stroke="#000" stroke-width="0.45" >BM-DC:</text>
<line x1="154.70" y1="1001.30" x2="154.70" y2="1010.20" stroke="#000" stroke-width="1.5" />
<line x1="177.00" y1="1001.30" x2="177.00" y2="1010.20" stroke="#000" stroke-width="1.5" />
<line x1="199.30" y1="1001.30" x2="199.30" y2="1010.20" stroke="#000" stroke-width="1.5" />
<line x1="236.90" y1="1001.30" x2="236.90" y2="1010.20" stroke="#000" stroke-width="1.5" />
<line x1="258.90" y1="1001.30" x2="258.90" y2="1010.20" stroke="#000" stroke-width="1.5" />
<line x1="281.10" y1="1001.30" x2="281.10" y2="1010.20" stroke="#000" stroke-width="1.5" />
<line x1="318.90" y1="1001.30" x2="318.90" y2="1010.20" stroke="#000" stroke-width="1.5" />
<line x1="341.10" y1="1001.30" x2="341.10" y2="1010.20" stroke="#000" stroke-width="1.5" />
<line x1="363.30" y1="1001.30" x2="363.30" y2="1010.20" stroke="#000" stroke-width="1.5" />
<line x1="401.10" y1="1001.30" x2="401.10" y2="1010.20" stroke="#000" stroke-width="1.5" />
<line x1="422.90" y1="1001.30" x2="422.90" y2="1010.20" stroke="#000" stroke-width="1.5" />
<line x1="445.20" y1="1001.30" x2="445.20" y2="1010.20" stroke="#000" stroke-width="1.5" />
<rect x="312.50" y="977.00" width="13.00" height="24.30" fill="#8a8a8a" stroke="#000" stroke-width="1.6" />
<rect x="314.00" y="978.50" width="10.00" height="21.80" fill="none" stroke="#e0e0e0" stroke-width="0.6" />
<rect x="335.40" y="957.40" width="12.30" height="43.90" fill="#8a8a8a" stroke="#000" stroke-width="1.6" />
<rect x="336.90" y="958.90" width="9.30" height="41.40" fill="none" stroke="#e0e0e0" stroke-width="0.6" />
<rect x="357.40" y="957.00" width="12.50" height="44.30" fill="#8a8a8a" stroke="#000" stroke-width="1.6" />
<rect x="358.90" y="958.50" width="9.50" height="41.80" fill="none" stroke="#e0e0e0" stroke-width="0.6" />
<rect x="395.20" y="850.40" width="12.50" height="150.90" fill="#d0d0d0" stroke="#000" stroke-width="1.6" />
<rect x="396.70" y="851.90" width="9.50" height="148.40" fill="none" stroke="#f4f4f4" stroke-width="0.6" />
<rect x="417.50" y="862.20" width="12.20" height="139.10" fill="#d0d0d0" stroke="#000" stroke-width="1.6" />
<rect x="419.00" y="863.70" width="9.20" height="136.60" fill="none" stroke="#f4f4f4" stroke-width="0.6" />
<rect x="439.80" y="824.40" width="12.40" height="176.90" fill="#d0d0d0" stroke="#000" stroke-width="1.6" />
<rect x="441.30" y="825.90" width="9.40" height="174.40" fill="none" stroke="#f4f4f4" stroke-width="0.6" />
<path d="M252.6,1001.3 L255.2,995.4 L260.5,995.4 L262.5,992.6 L266.0,1001.3 Z" fill="#0a0a0a"/>
<path d="M275.3,1001.3 L275.3,994.3 L278.5,994.3 L279.5,992.8 L281.0,994.0 L282.5,988.5 L284.7,985.6 L287.4,990.5 L288.8,993.5 L288.2,1001.3 Z" fill="#0a0a0a"/>
<rect x="282.40" y="996.00" width="3.60" height="1.20" fill="#fff" stroke="none" stroke-width="1" />
<rect x="282.40" y="998.60" width="3.60" height="1.10" fill="#fff" stroke="none" stroke-width="1" />
<line x1="318.90" y1="959.00" x2="318.90" y2="996.00" stroke="#000" stroke-width="1.6" />
<line x1="318.90" y1="959.00" x2="318.90" y2="959.00" stroke="#000" stroke-width="1.6" />
<line x1="318.90" y1="996.00" x2="318.90" y2="996.00" stroke="#000" stroke-width="1.6" />
<line x1="341.50" y1="937.70" x2="341.50" y2="980.70" stroke="#000" stroke-width="1.6" />
<line x1="341.50" y1="937.70" x2="341.50" y2="937.70" stroke="#000" stroke-width="1.6" />
<line x1="341.50" y1="980.70" x2="341.50" y2="980.70" stroke="#000" stroke-width="1.6" />
<line x1="401.10" y1="828.10" x2="401.10" y2="872.50" stroke="#000" stroke-width="1.6" />
<line x1="401.10" y1="828.10" x2="401.10" y2="828.10" stroke="#000" stroke-width="1.6" />
<line x1="401.10" y1="872.50" x2="401.10" y2="872.50" stroke="#000" stroke-width="1.6" />
<line x1="422.90" y1="822.00" x2="422.90" y2="899.00" stroke="#000" stroke-width="1.6" />
<line x1="417.40" y1="822.00" x2="428.40" y2="822.00" stroke="#000" stroke-width="1.6" />
<line x1="417.40" y1="899.00" x2="428.40" y2="899.00" stroke="#000" stroke-width="1.6" />
<line x1="445.60" y1="812.20" x2="445.60" y2="826.00" stroke="#000" stroke-width="1.6" />
<line x1="445.60" y1="812.20" x2="445.60" y2="812.20" stroke="#000" stroke-width="1.6" />
<line x1="445.60" y1="826.00" x2="445.60" y2="826.00" stroke="#000" stroke-width="1.6" />
<line x1="278.00" y1="987.70" x2="282.80" y2="987.70" stroke="#000" stroke-width="1.5" />
<line x1="281.20" y1="987.70" x2="281.20" y2="994.50" stroke="#000" stroke-width="1.5" />
<circle cx="154.60" cy="992.80" r="3.8" fill="#000"/>
<circle cx="150.80" cy="999.00" r="3.8" fill="#000"/>
<circle cx="158.40" cy="999.00" r="3.8" fill="#000"/>
<circle cx="154.60" cy="999.40" r="3.8" fill="#000"/>
<circle cx="173.90" cy="997.90" r="3.9" fill="#000"/>
<circle cx="180.50" cy="997.40" r="3.9" fill="#000"/>
<circle cx="177.20" cy="999.20" r="3.9" fill="#000"/>
<circle cx="195.60" cy="999.30" r="3.9" fill="#000"/>
<circle cx="202.70" cy="998.90" r="3.9" fill="#000"/>
<circle cx="199.20" cy="998.40" r="3.9" fill="#000"/>
<path d="M233.80,992.70 L237.55,1000.58 L230.05,1000.58 Z" fill="#000"/>
<path d="M240.20,992.70 L243.95,1000.58 L236.45,1000.58 Z" fill="#000"/>
<rect x="314.90" y="955.20" width="8.00" height="8.00" fill="#000" stroke="none" stroke-width="1" />
<rect x="314.90" y="966.30" width="8.00" height="8.00" fill="#000" stroke="none" stroke-width="1" />
<rect x="314.90" y="992.20" width="8.00" height="8.00" fill="#000" stroke="none" stroke-width="1" />
<rect x="337.50" y="933.70" width="8.00" height="8.00" fill="#000" stroke="none" stroke-width="1" />
<rect x="337.50" y="944.10" width="8.00" height="8.00" fill="#000" stroke="none" stroke-width="1" />
<rect x="337.50" y="976.70" width="8.00" height="8.00" fill="#000" stroke="none" stroke-width="1" />
<rect x="357.50" y="951.00" width="8.00" height="8.00" fill="#000" stroke="none" stroke-width="1" />
<rect x="362.50" y="948.00" width="8.00" height="8.00" fill="#000" stroke="none" stroke-width="1" />
<rect x="360.00" y="954.00" width="8.00" height="8.00" fill="#000" stroke="none" stroke-width="1" />
<circle cx="401.10" cy="828.10" r="3.6" fill="#000"/>
<circle cx="401.10" cy="846.90" r="3.6" fill="#000"/>
<circle cx="401.10" cy="872.50" r="3.6" fill="#000"/>
<circle cx="419.90" cy="835.70" r="3.6" fill="#000"/>
<circle cx="426.90" cy="841.00" r="3.6" fill="#000"/>
<circle cx="422.90" cy="904.80" r="3.6" fill="#000"/>
<circle cx="446.10" cy="812.20" r="3.6" fill="#000"/>
<circle cx="442.10" cy="828.60" r="3.6" fill="#000"/>
<circle cx="449.70" cy="826.30" r="3.6" fill="#000"/>
<text x="175.20" y="967.60" font-size="16.5" font-weight="normal" text-anchor="middle" fill="#000" stroke="#000" stroke-width="0.45" >n.s.</text>
<line x1="145.40" y1="973.00" x2="201.80" y2="973.00" stroke="#000" stroke-width="1.6" />
<text x="259.20" y="967.60" font-size="16.5" font-weight="normal" text-anchor="middle" fill="#000" stroke="#000" stroke-width="0.45" >n.s.</text>
<line x1="229.70" y1="972.80" x2="286.20" y2="972.80" stroke="#000" stroke-width="1.6" />
<text x="343.70" y="914.80" font-size="16.5" font-weight="normal" text-anchor="middle" fill="#000" stroke="#000" stroke-width="0.45" >n.s.</text>
<line x1="315.90" y1="920.00" x2="366.70" y2="920.00" stroke="#000" stroke-width="1.6" />
<text x="426.50" y="792.30" font-size="16.5" font-weight="normal" text-anchor="middle" fill="#000" stroke="#000" stroke-width="0.45" >n.s.</text>
<line x1="396.40" y1="797.00" x2="448.00" y2="797.00" stroke="#000" stroke-width="1.6" />
<circle cx="487.00" cy="862.20" r="3.0" fill="#000"/>
<text x="496.40" y="866.00" font-size="12" font-weight="bold" text-anchor="start" fill="#000" stroke="#000" stroke-width="0.15" >0 µg/ml</text>
<path d="M487.00,880.10 L490.00,886.40 L484.00,886.40 Z" fill="#000"/>
<text x="496.40" y="887.40" font-size="12" font-weight="bold" text-anchor="start" fill="#000" stroke="#000" stroke-width="0.15" >1 µg/ml</text>
<rect x="484.10" y="901.50" width="5.80" height="5.80" fill="#000" stroke="none" stroke-width="1" />
<text x="496.40" y="908.40" font-size="12" font-weight="bold" text-anchor="start" fill="#000" stroke="#000" stroke-width="0.15" >10 µg/ml</text>
<circle cx="487.00" cy="925.60" r="2.6" fill="#000"/>
<text x="496.40" y="929.60" font-size="12" font-weight="bold" text-anchor="start" fill="#000" stroke="#000" stroke-width="0.15" >100 µg/ml</text>
<text x="0" y="0" font-size="13.6" xml:space="preserve" stroke="#000" stroke-width="0.45" transform="translate(147.60,1024.30) rotate(48)">+/KI  AGF<tspan font-size="70%" font-weight="bold" baseline-shift="7" dx="-0.5">+</tspan></text>
<text x="0" y="0" font-size="13.6" xml:space="preserve" stroke="#000" stroke-width="0.45" transform="translate(170.40,1024.30) rotate(48)">KI/KI  AGF<tspan font-size="70%" font-weight="bold" baseline-shift="7" dx="-0.5">+</tspan></text>
<text x="0" y="0" font-size="13.6" xml:space="preserve" stroke="#000" stroke-width="0.45" transform="translate(193.90,1025.10) rotate(48)">+/KI  AGF<tspan font-size="70%" font-weight="bold" baseline-shift="7" dx="-0.5">–</tspan></text>
<text x="0" y="0" font-size="13.6" xml:space="preserve" stroke="#000" stroke-width="0.45" transform="translate(229.80,1024.30) rotate(48)">+/KI  AGF<tspan font-size="70%" font-weight="bold" baseline-shift="7" dx="-0.5">+</tspan></text>
<text x="0" y="0" font-size="13.6" xml:space="preserve" stroke="#000" stroke-width="0.45" transform="translate(252.30,1024.30) rotate(48)">KI/KI  AGF<tspan font-size="70%" font-weight="bold" baseline-shift="7" dx="-0.5">+</tspan></text>
<text x="0" y="0" font-size="13.6" xml:space="preserve" stroke="#000" stroke-width="0.45" transform="translate(275.70,1025.10) rotate(48)">+/KI  AGF<tspan font-size="70%" font-weight="bold" baseline-shift="7" dx="-0.5">–</tspan></text>
<text x="0" y="0" font-size="13.6" xml:space="preserve" stroke="#000" stroke-width="0.45" transform="translate(311.80,1024.30) rotate(48)">+/KI  AGF<tspan font-size="70%" font-weight="bold" baseline-shift="7" dx="-0.5">+</tspan></text>
<text x="0" y="0" font-size="13.6" xml:space="preserve" stroke="#000" stroke-width="0.45" transform="translate(334.50,1024.30) rotate(48)">KI/KI  AGF<tspan font-size="70%" font-weight="bold" baseline-shift="7" dx="-0.5">+</tspan></text>
<text x="0" y="0" font-size="13.6" xml:space="preserve" stroke="#000" stroke-width="0.45" transform="translate(357.90,1025.10) rotate(48)">+/KI  AGF<tspan font-size="70%" font-weight="bold" baseline-shift="7" dx="-0.5">–</tspan></text>
<text x="0" y="0" font-size="13.6" xml:space="preserve" stroke="#000" stroke-width="0.45" transform="translate(394.00,1024.30) rotate(48)">+/KI  AGF<tspan font-size="70%" font-weight="bold" baseline-shift="7" dx="-0.5">+</tspan></text>
<text x="0" y="0" font-size="13.6" xml:space="preserve" stroke="#000" stroke-width="0.45" transform="translate(416.30,1024.30) rotate(48)">KI/KI  AGF<tspan font-size="70%" font-weight="bold" baseline-shift="7" dx="-0.5">+</tspan></text>
<text x="0" y="0" font-size="13.6" xml:space="preserve" stroke="#000" stroke-width="0.45" transform="translate(439.80,1025.10) rotate(48)">+/KI  AGF<tspan font-size="70%" font-weight="bold" baseline-shift="7" dx="-0.5">–</tspan></text>
</svg>
</body></html>
